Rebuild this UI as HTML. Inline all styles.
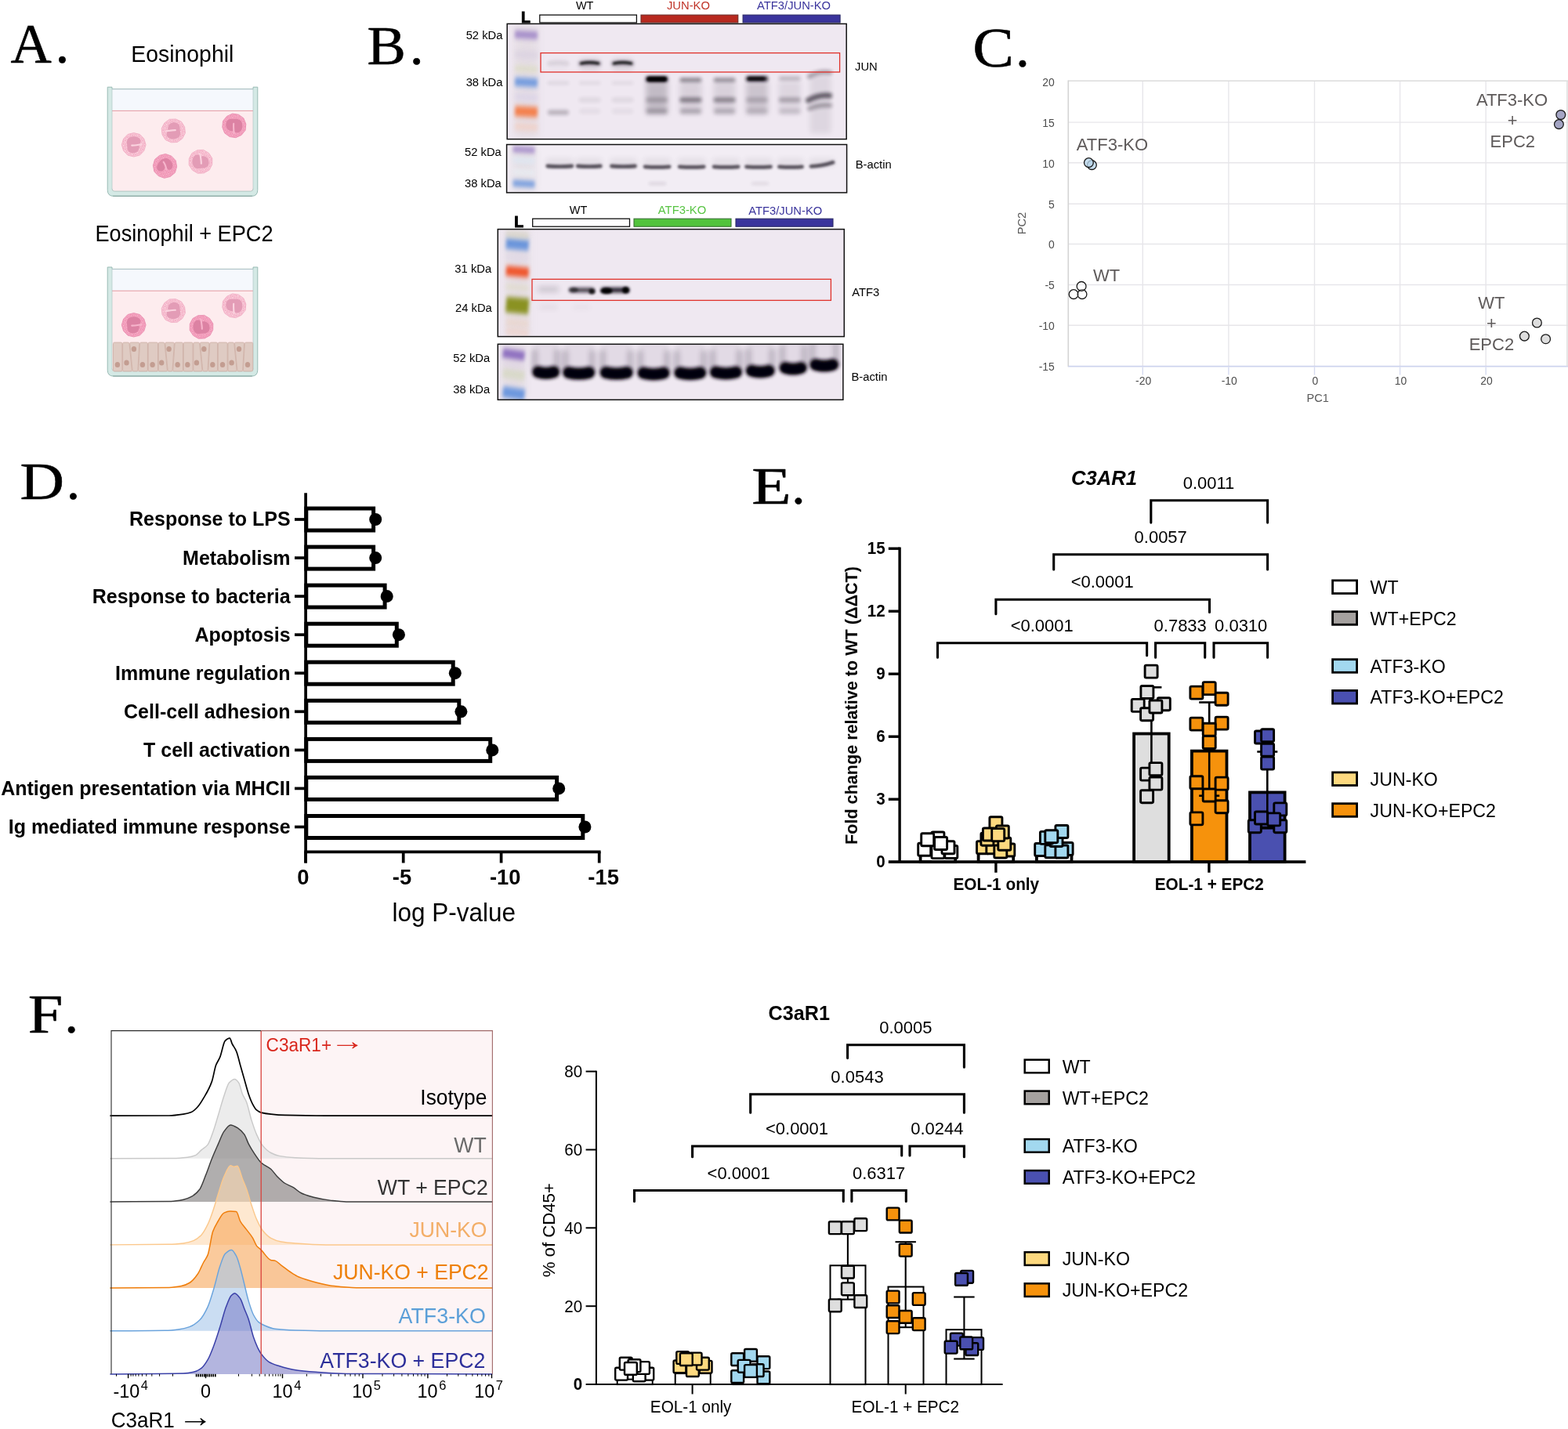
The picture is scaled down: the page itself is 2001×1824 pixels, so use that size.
<!DOCTYPE html>
<html lang="en">
<head>
<meta charset="utf-8">
<title>Figure: ATF3 and JUN regulate C3AR1 in eosinophils</title>
<style>
html,body{margin:0;padding:0;background:#fff;}
body{width:2001px;height:1824px;overflow:hidden;}
svg{display:block;font-family:'Liberation Sans', Arial, Helvetica, sans-serif;}
</style>
</head>
<body>
<svg width="2001" height="1824" viewBox="0 0 2001 1824">
<defs>
<filter id="bl1" filterUnits="userSpaceOnUse" x="620" y="0" width="480" height="530"><feGaussianBlur stdDeviation="1.5"/></filter>
<filter id="bl2" filterUnits="userSpaceOnUse" x="620" y="0" width="480" height="530"><feGaussianBlur stdDeviation="2.3"/></filter>
<filter id="bl2b" filterUnits="userSpaceOnUse" x="620" y="0" width="480" height="530"><feGaussianBlur stdDeviation="2.9"/></filter>
<filter id="blL" filterUnits="userSpaceOnUse" x="620" y="0" width="480" height="530"><feGaussianBlur stdDeviation="2.2 3.3"/></filter>
<filter id="bl3" filterUnits="userSpaceOnUse" x="620" y="0" width="480" height="530"><feGaussianBlur stdDeviation="3.6"/></filter>
<filter id="bl4" filterUnits="userSpaceOnUse" x="620" y="0" width="480" height="530"><feGaussianBlur stdDeviation="5"/></filter>
<pattern id="gran" width="5" height="5" patternUnits="userSpaceOnUse" patternTransform="rotate(27)"><circle cx="0.7" cy="0.9" r="0.55" fill="#e56f96"/><circle cx="3.1" cy="0.4" r="0.5" fill="#e56f96"/><circle cx="1.9" cy="2.4" r="0.55" fill="#e56f96"/><circle cx="4.2" cy="2.9" r="0.5" fill="#e56f96"/><circle cx="0.5" cy="3.9" r="0.5" fill="#e56f96"/><circle cx="2.9" cy="4.3" r="0.55" fill="#e56f96"/><circle cx="1.8" cy="0.9" r="0.45" fill="#fdeaf0"/><circle cx="3.6" cy="1.8" r="0.45" fill="#fdeaf0"/><circle cx="1.2" cy="3.2" r="0.45" fill="#fdeaf0"/><circle cx="4.1" cy="4.1" r="0.45" fill="#fdeaf0"/></pattern>
</defs>
<rect width="2001" height="1824" fill="#fff"/>
<g id="panelA">
<text transform="translate(13.6 80.2) scale(1.058 1.058)" font-family="'Liberation Serif', 'Times New Roman', serif" font-size="68.4" font-weight="normal" stroke="#000" stroke-width="0.55" stroke-linejoin="round"><tspan x="0">A</tspan><tspan x="53.9" textLength="16.9" lengthAdjust="spacingAndGlyphs">.</tspan></text>
<text x="167.3" y="79.3" font-size="29" textLength="131.0" lengthAdjust="spacingAndGlyphs">Eosinophil</text>
<text x="121.5" y="307.5" font-size="29" textLength="227.0" lengthAdjust="spacingAndGlyphs">Eosinophil + EPC2</text>
<path d="M137.2 111.2H143.0V113.60000000000001H323.0V111.2H328.8V242.39999999999998Q328.8 250.39999999999998 320.8 250.39999999999998H145.2Q137.2 250.39999999999998 137.2 242.39999999999998Z" fill="#d4e9e5" stroke="#8fb3ad" stroke-width="0.9"/>
<path d="M144.2 250.2H321.8" fill="none" stroke="#7f9e98" stroke-width="0.9"/>
<rect x="143.0" y="113.8" width="180.0" height="27.6" fill="#f5f8fd"/>
<path d="M143.0 141.4H323.0V240.89999999999998Q323.0 244.09999999999997 319.8 244.09999999999997H146.2Q143.0 244.09999999999997 143.0 240.89999999999998Z" fill="#fdecee"/>
<line x1="143.0" y1="141.4" x2="323.0" y2="141.4" stroke="#e58f98" stroke-width="0.9" />
<line x1="143.0" y1="113.8" x2="323.0" y2="113.8" stroke="#a9bcc0" stroke-width="0.7" />
<line x1="143.0" y1="113.8" x2="143.0" y2="241.4" stroke="#a9c4bf" stroke-width="0.6" />
<line x1="323.0" y1="113.8" x2="323.0" y2="241.4" stroke="#a9c4bf" stroke-width="0.6" />
<path d="M143.0 240.89999999999998Q143.0 244.09999999999997 146.2 244.09999999999997H319.8Q323.0 244.09999999999997 323.0 240.89999999999998" fill="none" stroke="#9db8b3" stroke-width="0.7"/>
<g transform="translate(170.7 184.8)"><polygon points="15.4,0.0 13.1,7.6 7.7,13.3 0.0,15.2 -7.7,13.3 -13.1,7.6 -15.4,0.0 -13.1,-7.6 -7.7,-13.3 -0.0,-15.2 7.7,-13.3 13.1,-7.6" fill="#f9cad9" stroke="#f0aec4" stroke-width="0.9" stroke-linejoin="round"/><circle r="14.4" fill="url(#gran)" opacity="0.8"/><g transform="rotate(0)"><path d="M-8.8 -3C-8.8 -8.5 -4 -10.8 1 -10.5C6 -10.2 9.2 -7 8.7 -3.5C8.5 -1.8 7.6 -0.6 6.2 0C7.2 1 7.2 3 6.7 5C5.7 9 2 10.8 -2 10.5C-6 10.2 -8.5 7 -8.3 3C-8.2 1 -8.8 -1 -8.8 -3Z" fill="#e39cb6"/><path d="M-2.5 0.8C0 1 3 0.4 9.8 -0.6" fill="none" stroke="#fad3df" stroke-width="2.1" stroke-linecap="round"/></g></g>
<g transform="translate(221.3 166.9)"><polygon points="15.1,2.9 11.4,10.0 5.0,14.6 -2.9,14.9 -10.1,11.6 -14.3,4.9 -15.1,-2.9 -11.4,-10.0 -5.0,-14.6 2.9,-14.9 10.1,-11.6 14.3,-4.9" fill="#f9cad9" stroke="#f0aec4" stroke-width="0.9" stroke-linejoin="round"/><circle r="14.4" fill="url(#gran)" opacity="0.8"/><g transform="rotate(180)"><path d="M-8.8 -3C-8.8 -8.5 -4 -10.8 1 -10.5C6 -10.2 9.2 -7 8.7 -3.5C8.5 -1.8 7.6 -0.6 6.2 0C7.2 1 7.2 3 6.7 5C5.7 9 2 10.8 -2 10.5C-6 10.2 -8.5 7 -8.3 3C-8.2 1 -8.8 -1 -8.8 -3Z" fill="#e39cb6"/><path d="M-2.5 0.8C0 1 3 0.4 9.8 -0.6" fill="none" stroke="#fad3df" stroke-width="2.1" stroke-linecap="round"/></g></g>
<g transform="translate(298.8 160.4)"><polygon points="14.3,5.8 9.3,12.0 2.1,15.3 -5.7,14.1 -12.1,9.5 -15.0,2.1 -14.3,-5.8 -9.3,-12.0 -2.1,-15.3 5.7,-14.1 12.1,-9.5 15.0,-2.1" fill="#f4a3c0" stroke="#e98fb0" stroke-width="0.9" stroke-linejoin="round"/><circle r="14.4" fill="url(#gran)" opacity="0.8"/><g transform="rotate(95)"><path d="M-8.8 -3C-8.8 -8.5 -4 -10.8 1 -10.5C6 -10.2 9.2 -7 8.7 -3.5C8.5 -1.8 7.6 -0.6 6.2 0C7.2 1 7.2 3 6.7 5C5.7 9 2 10.8 -2 10.5C-6 10.2 -8.5 7 -8.3 3C-8.2 1 -8.8 -1 -8.8 -3Z" fill="#dc82a3"/><path d="M-2.5 0.8C0 1 3 0.4 9.8 -0.6" fill="none" stroke="#f6b4cb" stroke-width="2.1" stroke-linecap="round"/></g></g>
<g transform="translate(210.5 211.9)"><polygon points="12.9,8.4 6.9,13.5 -0.8,15.4 -8.3,12.7 -13.7,7.0 -15.1,-0.8 -12.9,-8.4 -6.9,-13.5 0.8,-15.4 8.3,-12.7 13.7,-7.0 15.1,0.8" fill="#f4a3c0" stroke="#e98fb0" stroke-width="0.9" stroke-linejoin="round"/><circle r="14.4" fill="url(#gran)" opacity="0.8"/><g transform="rotate(35)"><path d="M-9 0.5C-9 -4 -6.5 -9.5 -1.5 -9.8C3.5 -10.1 8.6 -7.5 9 -3C9.3 0.5 6.8 1.6 4.6 1.2C2.6 0.8 1.5 -0.8 0 -0.6C1.6 1.4 2.2 3.6 1.2 6.2C0 9.3 -3.4 10.3 -6 8.8C-8.4 7.4 -9 4 -9 0.5Z" fill="#dc82a3"/><path d="M-4.5 -3.2C-2 -2.6 0.5 -0.8 4 2.4" fill="none" stroke="#f6b4cb" stroke-width="2.1" stroke-linecap="round"/></g></g>
<g transform="translate(256.0 206.3)"><polygon points="11.1,10.7 4.2,14.6 -3.7,14.9 -10.5,10.9 -14.8,4.2 -14.7,-3.7 -11.1,-10.7 -4.2,-14.6 3.7,-14.9 10.5,-10.9 14.8,-4.2 14.7,3.7" fill="#f9cad9" stroke="#f0aec4" stroke-width="0.9" stroke-linejoin="round"/><circle r="14.4" fill="url(#gran)" opacity="0.8"/><g transform="rotate(-90)"><path d="M-8.8 -3C-8.8 -8.5 -4 -10.8 1 -10.5C6 -10.2 9.2 -7 8.7 -3.5C8.5 -1.8 7.6 -0.6 6.2 0C7.2 1 7.2 3 6.7 5C5.7 9 2 10.8 -2 10.5C-6 10.2 -8.5 7 -8.3 3C-8.2 1 -8.8 -1 -8.8 -3Z" fill="#e39cb6"/><path d="M-2.5 0.8C0 1 3 0.4 9.8 -0.6" fill="none" stroke="#fad3df" stroke-width="2.1" stroke-linecap="round"/></g></g>
<path d="M137.2 341H143.0V343.4H323.0V341H328.8V472.2Q328.8 480.2 320.8 480.2H145.2Q137.2 480.2 137.2 472.2Z" fill="#d4e9e5" stroke="#8fb3ad" stroke-width="0.9"/>
<path d="M144.2 480.0H321.8" fill="none" stroke="#7f9e98" stroke-width="0.9"/>
<rect x="143.0" y="343.6" width="180.0" height="27.6" fill="#f5f8fd"/>
<path d="M143.0 371.2H323.0V470.7Q323.0 473.9 319.8 473.9H146.2Q143.0 473.9 143.0 470.7Z" fill="#fdecee"/>
<line x1="143.0" y1="371.2" x2="323.0" y2="371.2" stroke="#e58f98" stroke-width="0.9" />
<line x1="143.0" y1="343.6" x2="323.0" y2="343.6" stroke="#a9bcc0" stroke-width="0.7" />
<line x1="143.0" y1="343.6" x2="143.0" y2="471.2" stroke="#a9c4bf" stroke-width="0.6" />
<line x1="323.0" y1="343.6" x2="323.0" y2="471.2" stroke="#a9c4bf" stroke-width="0.6" />
<path d="M143.0 470.7Q143.0 473.9 146.2 473.9H319.8Q323.0 473.9 323.0 470.7" fill="none" stroke="#9db8b3" stroke-width="0.7"/>
<rect x="143.6" y="438.5" width="178.8" height="35.7" fill="#ead8d1" rx="2"/>
<path d="M146.1 437.0H154.3Q155.9 437.0 155.9 438.6L155.9 472.3Q155.9 473.9 154.3 473.9H146.1Q144.5 473.9 144.5 472.3L144.5 438.6Q144.5 437.0 146.1 437.0Z" fill="#dfcbc3" stroke="#c5a296" stroke-width="0.55"/>
<path d="M158.2 437.0H163.2Q164.8 437.0 165.0 438.6L168.3 472.3Q168.5 473.9 166.9 473.9H158.2Q156.6 473.9 156.6 472.3L156.6 438.6Q156.6 437.0 158.2 437.0Z" fill="#dfcbc3" stroke="#c5a296" stroke-width="0.55"/>
<path d="M167.1 437.0H176.3Q177.9 437.0 177.8 438.6L175.9 472.3Q175.8 473.9 174.2 473.9H170.8Q169.2 473.9 169.0 472.3L165.7 438.6Q165.5 437.0 167.1 437.0Z" fill="#dfcbc3" stroke="#c5a296" stroke-width="0.55"/>
<path d="M180.2 437.0H186.8Q188.4 437.0 188.4 438.6L188.4 472.3Q188.4 473.9 186.8 473.9H178.1Q176.5 473.9 176.6 472.3L178.5 438.6Q178.6 437.0 180.2 437.0Z" fill="#dfcbc3" stroke="#c5a296" stroke-width="0.55"/>
<path d="M190.7 437.0H199.9Q201.5 437.0 201.5 438.6L201.5 472.3Q201.5 473.9 199.9 473.9H190.7Q189.1 473.9 189.1 472.3L189.1 438.6Q189.1 437.0 190.7 437.0Z" fill="#dfcbc3" stroke="#c5a296" stroke-width="0.55"/>
<path d="M203.8 437.0H208.3Q209.9 437.0 210.1 438.6L213.4 472.3Q213.6 473.9 212.0 473.9H203.8Q202.2 473.9 202.2 472.3L202.2 438.6Q202.2 437.0 203.8 437.0Z" fill="#dfcbc3" stroke="#c5a296" stroke-width="0.55"/>
<path d="M212.2 437.0H220.9Q222.5 437.0 222.4 438.6L220.0 472.3Q219.9 473.9 218.3 473.9H215.9Q214.3 473.9 214.1 472.3L210.8 438.6Q210.6 437.0 212.2 437.0Z" fill="#dfcbc3" stroke="#c5a296" stroke-width="0.55"/>
<path d="M224.8 437.0H231.9Q233.5 437.0 233.5 438.6L233.5 472.3Q233.5 473.9 231.9 473.9H222.2Q220.6 473.9 220.7 472.3L223.1 438.6Q223.2 437.0 224.8 437.0Z" fill="#dfcbc3" stroke="#c5a296" stroke-width="0.55"/>
<path d="M235.8 437.0H244.5Q246.1 437.0 246.1 438.6L246.1 472.3Q246.1 473.9 244.5 473.9H235.8Q234.2 473.9 234.2 472.3L234.2 438.6Q234.2 437.0 235.8 437.0Z" fill="#dfcbc3" stroke="#c5a296" stroke-width="0.55"/>
<path d="M248.4 437.0H252.9Q254.5 437.0 254.7 438.6L258.0 472.3Q258.2 473.9 256.6 473.9H248.4Q246.8 473.9 246.8 472.3L246.8 438.6Q246.8 437.0 248.4 437.0Z" fill="#dfcbc3" stroke="#c5a296" stroke-width="0.55"/>
<path d="M256.8 437.0H265.5Q267.1 437.0 267.0 438.6L265.1 472.3Q265.0 473.9 263.4 473.9H260.5Q258.9 473.9 258.7 472.3L255.4 438.6Q255.2 437.0 256.8 437.0Z" fill="#dfcbc3" stroke="#c5a296" stroke-width="0.55"/>
<path d="M269.4 437.0H276.0Q277.6 437.0 277.6 438.6L277.6 472.3Q277.6 473.9 276.0 473.9H267.3Q265.7 473.9 265.8 472.3L267.7 438.6Q267.8 437.0 269.4 437.0Z" fill="#dfcbc3" stroke="#c5a296" stroke-width="0.55"/>
<path d="M279.9 437.0H288.6Q290.2 437.0 290.2 438.6L290.2 472.3Q290.2 473.9 288.6 473.9H279.9Q278.3 473.9 278.3 472.3L278.3 438.6Q278.3 437.0 279.9 437.0Z" fill="#dfcbc3" stroke="#c5a296" stroke-width="0.55"/>
<path d="M292.5 437.0H297.0Q298.6 437.0 298.8 438.6L302.1 472.3Q302.3 473.9 300.7 473.9H292.5Q290.9 473.9 290.9 472.3L290.9 438.6Q290.9 437.0 292.5 437.0Z" fill="#dfcbc3" stroke="#c5a296" stroke-width="0.55"/>
<path d="M300.9 437.0H310.1Q311.7 437.0 311.6 438.6L309.7 472.3Q309.6 473.9 308.0 473.9H304.6Q303.0 473.9 302.8 472.3L299.5 438.6Q299.3 437.0 300.9 437.0Z" fill="#dfcbc3" stroke="#c5a296" stroke-width="0.55"/>
<path d="M314.0 437.0H321.1Q322.7 437.0 322.7 438.6L322.7 472.3Q322.7 473.9 321.1 473.9H311.9Q310.3 473.9 310.4 472.3L312.3 438.6Q312.4 437.0 314.0 437.0Z" fill="#dfcbc3" stroke="#c5a296" stroke-width="0.55"/>
<ellipse cx="149.9" cy="465.4" rx="3.2" ry="3.5" fill="#c39d91"/>
<ellipse cx="161.5" cy="463.1" rx="3.2" ry="3.5" fill="#c39d91"/>
<ellipse cx="170.9" cy="445.4" rx="3.2" ry="3.5" fill="#c39d91"/>
<ellipse cx="181.9" cy="465.4" rx="3.2" ry="3.5" fill="#c39d91"/>
<ellipse cx="194.6" cy="465.4" rx="3.2" ry="3.5" fill="#c39d91"/>
<ellipse cx="206.2" cy="463.1" rx="3.2" ry="3.5" fill="#c39d91"/>
<ellipse cx="215.6" cy="445.4" rx="3.2" ry="3.5" fill="#c39d91"/>
<ellipse cx="226.6" cy="465.4" rx="3.2" ry="3.5" fill="#c39d91"/>
<ellipse cx="239.3" cy="465.4" rx="3.2" ry="3.5" fill="#c39d91"/>
<ellipse cx="250.9" cy="463.1" rx="3.2" ry="3.5" fill="#c39d91"/>
<ellipse cx="260.3" cy="445.4" rx="3.2" ry="3.5" fill="#c39d91"/>
<ellipse cx="271.3" cy="465.4" rx="3.2" ry="3.5" fill="#c39d91"/>
<ellipse cx="284.0" cy="465.4" rx="3.2" ry="3.5" fill="#c39d91"/>
<ellipse cx="295.6" cy="463.1" rx="3.2" ry="3.5" fill="#c39d91"/>
<ellipse cx="305.0" cy="445.4" rx="3.2" ry="3.5" fill="#c39d91"/>
<ellipse cx="316.0" cy="465.4" rx="3.2" ry="3.5" fill="#c39d91"/>
<g transform="translate(170.7 414.8)"><polygon points="15.4,0.0 13.1,7.6 7.7,13.3 0.0,15.2 -7.7,13.3 -13.1,7.6 -15.4,0.0 -13.1,-7.6 -7.7,-13.3 -0.0,-15.2 7.7,-13.3 13.1,-7.6" fill="#f4a3c0" stroke="#e98fb0" stroke-width="0.9" stroke-linejoin="round"/><circle r="14.4" fill="url(#gran)" opacity="0.8"/><g transform="rotate(0)"><path d="M-8.8 -3C-8.8 -8.5 -4 -10.8 1 -10.5C6 -10.2 9.2 -7 8.7 -3.5C8.5 -1.8 7.6 -0.6 6.2 0C7.2 1 7.2 3 6.7 5C5.7 9 2 10.8 -2 10.5C-6 10.2 -8.5 7 -8.3 3C-8.2 1 -8.8 -1 -8.8 -3Z" fill="#dc82a3"/><path d="M-2.5 0.8C0 1 3 0.4 9.8 -0.6" fill="none" stroke="#f6b4cb" stroke-width="2.1" stroke-linecap="round"/></g></g>
<g transform="translate(221.3 396.6)"><polygon points="15.1,2.9 11.4,10.0 5.0,14.6 -2.9,14.9 -10.1,11.6 -14.3,4.9 -15.1,-2.9 -11.4,-10.0 -5.0,-14.6 2.9,-14.9 10.1,-11.6 14.3,-4.9" fill="#f9cad9" stroke="#f0aec4" stroke-width="0.9" stroke-linejoin="round"/><circle r="14.4" fill="url(#gran)" opacity="0.8"/><g transform="rotate(180)"><path d="M-8.8 -3C-8.8 -8.5 -4 -10.8 1 -10.5C6 -10.2 9.2 -7 8.7 -3.5C8.5 -1.8 7.6 -0.6 6.2 0C7.2 1 7.2 3 6.7 5C5.7 9 2 10.8 -2 10.5C-6 10.2 -8.5 7 -8.3 3C-8.2 1 -8.8 -1 -8.8 -3Z" fill="#e39cb6"/><path d="M-2.5 0.8C0 1 3 0.4 9.8 -0.6" fill="none" stroke="#fad3df" stroke-width="2.1" stroke-linecap="round"/></g></g>
<g transform="translate(298.8 390.3)"><polygon points="14.3,5.8 9.3,12.0 2.1,15.3 -5.7,14.1 -12.1,9.5 -15.0,2.1 -14.3,-5.8 -9.3,-12.0 -2.1,-15.3 5.7,-14.1 12.1,-9.5 15.0,-2.1" fill="#f9cad9" stroke="#f0aec4" stroke-width="0.9" stroke-linejoin="round"/><circle r="14.4" fill="url(#gran)" opacity="0.8"/><g transform="rotate(95)"><path d="M-8.8 -3C-8.8 -8.5 -4 -10.8 1 -10.5C6 -10.2 9.2 -7 8.7 -3.5C8.5 -1.8 7.6 -0.6 6.2 0C7.2 1 7.2 3 6.7 5C5.7 9 2 10.8 -2 10.5C-6 10.2 -8.5 7 -8.3 3C-8.2 1 -8.8 -1 -8.8 -3Z" fill="#e39cb6"/><path d="M-2.5 0.8C0 1 3 0.4 9.8 -0.6" fill="none" stroke="#fad3df" stroke-width="2.1" stroke-linecap="round"/></g></g>
<g transform="translate(257.0 417.3)"><polygon points="11.1,10.7 4.2,14.6 -3.7,14.9 -10.5,10.9 -14.8,4.2 -14.7,-3.7 -11.1,-10.7 -4.2,-14.6 3.7,-14.9 10.5,-10.9 14.8,-4.2 14.7,3.7" fill="#f4a3c0" stroke="#e98fb0" stroke-width="0.9" stroke-linejoin="round"/><circle r="14.4" fill="url(#gran)" opacity="0.8"/><g transform="rotate(-90)"><path d="M-8.8 -3C-8.8 -8.5 -4 -10.8 1 -10.5C6 -10.2 9.2 -7 8.7 -3.5C8.5 -1.8 7.6 -0.6 6.2 0C7.2 1 7.2 3 6.7 5C5.7 9 2 10.8 -2 10.5C-6 10.2 -8.5 7 -8.3 3C-8.2 1 -8.8 -1 -8.8 -3Z" fill="#dc82a3"/><path d="M-2.5 0.8C0 1 3 0.4 9.8 -0.6" fill="none" stroke="#f6b4cb" stroke-width="2.1" stroke-linecap="round"/></g></g>
</g>
<g id="panelB" font-size="14.8">
<text transform="translate(468.6 81.8) scale(1.083 1.023)" font-family="'Liberation Serif', 'Times New Roman', serif" font-size="68.4" font-weight="normal" stroke="#000" stroke-width="0.55" stroke-linejoin="round"><tspan x="0">B</tspan><tspan x="50.1" textLength="16.5" lengthAdjust="spacingAndGlyphs">.</tspan></text>
<text transform="translate(671.0 29.4) scale(1 1.035)" font-size="19.5" text-anchor="middle" font-weight="bold" stroke="#000" stroke-width="0.9">L</text>
<text transform="translate(746.2 12.0) scale(1 1.035)" font-size="14.5" text-anchor="middle">WT</text>
<text transform="translate(878.4 12.0) scale(1 1.035)" font-size="14.8" text-anchor="middle" fill="#c03428">JUN-KO</text>
<text transform="translate(1013.1 12.0) scale(1 1.035)" font-size="14.8" text-anchor="middle" fill="#3a349c" textLength="94.0" lengthAdjust="spacingAndGlyphs">ATF3/JUN-KO</text>
<rect x="688.8" y="19.1" width="123.6" height="9.8" fill="#fff" stroke="#111" stroke-width="1.3"/>
<rect x="818.0" y="19.1" width="123.8" height="9.8" fill="#b8291f" stroke="#6d2a26" stroke-width="1.1"/>
<rect x="948.1" y="19.1" width="124.0" height="9.8" fill="#3a349c" stroke="#2a2866" stroke-width="1.1"/>
<clipPath id="cb1"><rect x="647.2" y="30.4" width="433.0" height="147.2"/></clipPath>
<rect x="647.2" y="30.4" width="433.0" height="147.2" fill="#efe8f1"/>
<g clip-path="url(#cb1)">
<rect x="656.5" y="32.0" width="30.0" height="144.0" fill="#e2dae0" opacity="0.75" filter="url(#bl4)"/>
<path d="M657.0 43.7L686.0 45.3" fill="none" stroke="#9c82c6" stroke-width="9.5" opacity="0.9" filter="url(#blL)"/>
<path d="M657.0 104.2L686.0 105.8" fill="none" stroke="#6d98de" stroke-width="11" opacity="0.95" filter="url(#blL)"/>
<path d="M657.0 141.7L686.0 143.3" fill="none" stroke="#f47a44" stroke-width="13" opacity="0.95" filter="url(#blL)"/>
<path d="M657.0 69.2L686.0 70.8" fill="none" stroke="#d9d0e0" stroke-width="10" opacity="0.7" filter="url(#blL)"/>
<path d="M657.0 87.2L686.0 88.8" fill="none" stroke="#dcdcc4" stroke-width="8" opacity="0.8" filter="url(#blL)"/>
<path d="M657.0 123.2L686.0 124.8" fill="none" stroke="#d8d0e8" stroke-width="8" opacity="0.7" filter="url(#blL)"/>
<path d="M657.0 161.2L686.0 162.8" fill="none" stroke="#f1cfc4" stroke-width="9" opacity="0.8" filter="url(#blL)"/>
<path d="M700.4 81.1Q712.4 79.0 724.4 81.1" fill="none" stroke="#15101c" stroke-width="4.2" stroke-linecap="round" opacity="0.1" filter="url(#bl2)"/>
<rect x="699.9" y="75.0" width="25.0" height="14.0" rx="3.0" fill="#15101c" opacity="0.022000000000000002" filter="url(#bl3)"/>
<path d="M740.6 81.1Q752.6 79.0 764.6 81.1" fill="none" stroke="#15101c" stroke-width="4.2" stroke-linecap="round" opacity="0.5" filter="url(#bl2)"/>
<rect x="740.1" y="75.0" width="25.0" height="14.0" rx="3.0" fill="#15101c" opacity="0.11" filter="url(#bl3)"/>
<path d="M782.5 81.1Q794.5 79.0 806.5 81.1" fill="none" stroke="#15101c" stroke-width="4.2" stroke-linecap="round" opacity="0.5" filter="url(#bl2)"/>
<rect x="782.0" y="75.0" width="25.0" height="14.0" rx="3.0" fill="#15101c" opacity="0.11" filter="url(#bl3)"/>
<path d="M741.6 80.9Q752.6 78.8 763.6 80.9" fill="none" stroke="#000" stroke-width="3" stroke-linecap="round" opacity="0.9" filter="url(#bl1)"/>
<path d="M783.5 80.9Q794.5 78.8 805.5 80.9" fill="none" stroke="#000" stroke-width="3" stroke-linecap="round" opacity="0.9" filter="url(#bl1)"/>
<rect x="698.4" y="104.0" width="28.0" height="4.0" rx="2.0" fill="#15101c" opacity="0.09" filter="url(#bl2)"/>
<rect x="738.6" y="104.0" width="28.0" height="4.0" rx="2.0" fill="#15101c" opacity="0.07" filter="url(#bl2)"/>
<rect x="780.5" y="104.0" width="28.0" height="4.0" rx="2.0" fill="#15101c" opacity="0.07" filter="url(#bl2)"/>
<rect x="824.2" y="97.5" width="28.0" height="7.0" rx="3.0" fill="#15101c" opacity="1" filter="url(#bl2)"/>
<rect x="867.4" y="99.0" width="28.0" height="6.0" rx="3.0" fill="#15101c" opacity="0.4" filter="url(#bl2)"/>
<rect x="910.6" y="99.0" width="28.0" height="6.0" rx="3.0" fill="#15101c" opacity="0.36" filter="url(#bl2)"/>
<rect x="952.0" y="97.2" width="28.0" height="6.5" rx="3.0" fill="#15101c" opacity="0.95" filter="url(#bl2)"/>
<rect x="993.8" y="97.0" width="28.0" height="6.0" rx="3.0" fill="#15101c" opacity="0.2" filter="url(#bl2)"/>
<rect x="825.7" y="98.3" width="25.0" height="5.4" rx="2.7" fill="#000" opacity="1" filter="url(#bl1)"/>
<rect x="954.0" y="98.5" width="22.0" height="4.0" rx="2.0" fill="#000" opacity="0.8" filter="url(#bl1)"/>
<rect x="824.2" y="104" width="28" height="42" fill="#15101c" opacity="0.2" filter="url(#bl3)"/>
<rect x="867.4" y="104" width="28" height="42" fill="#15101c" opacity="0.1" filter="url(#bl3)"/>
<rect x="910.6" y="104" width="28" height="42" fill="#15101c" opacity="0.1" filter="url(#bl3)"/>
<rect x="952.0" y="104" width="28" height="42" fill="#15101c" opacity="0.16" filter="url(#bl3)"/>
<rect x="993.8" y="104" width="28" height="42" fill="#15101c" opacity="0.08" filter="url(#bl3)"/>
<rect x="738.6" y="124.3" width="28.0" height="6.5" rx="3.0" fill="#15101c" opacity="0.07" filter="url(#bl2)"/>
<rect x="780.5" y="124.3" width="28.0" height="6.5" rx="3.0" fill="#15101c" opacity="0.07" filter="url(#bl2)"/>
<rect x="824.2" y="124.3" width="28.0" height="6.5" rx="3.0" fill="#15101c" opacity="0.2" filter="url(#bl2)"/>
<rect x="867.4" y="124.3" width="28.0" height="6.5" rx="3.0" fill="#15101c" opacity="0.42" filter="url(#bl2)"/>
<rect x="910.6" y="124.3" width="28.0" height="6.5" rx="3.0" fill="#15101c" opacity="0.38" filter="url(#bl2)"/>
<rect x="952.0" y="124.3" width="28.0" height="6.5" rx="3.0" fill="#15101c" opacity="0.18" filter="url(#bl2)"/>
<rect x="993.8" y="124.3" width="28.0" height="6.5" rx="3.0" fill="#15101c" opacity="0.26" filter="url(#bl2)"/>
<rect x="698.9" y="140.2" width="27.0" height="6.5" rx="3.0" fill="#15101c" opacity="0.24" filter="url(#bl2)"/>
<rect x="739.1" y="138.8" width="27.0" height="6.5" rx="3.0" fill="#15101c" opacity="0.05" filter="url(#bl2)"/>
<rect x="781.0" y="138.8" width="27.0" height="6.5" rx="3.0" fill="#15101c" opacity="0.05" filter="url(#bl2)"/>
<rect x="824.7" y="138.8" width="27.0" height="6.5" rx="3.0" fill="#15101c" opacity="0.22" filter="url(#bl2)"/>
<rect x="867.9" y="138.8" width="27.0" height="6.5" rx="3.0" fill="#15101c" opacity="0.22" filter="url(#bl2)"/>
<rect x="911.1" y="138.8" width="27.0" height="6.5" rx="3.0" fill="#15101c" opacity="0.2" filter="url(#bl2)"/>
<rect x="952.5" y="138.8" width="27.0" height="6.5" rx="3.0" fill="#15101c" opacity="0.13" filter="url(#bl2)"/>
<rect x="994.3" y="138.8" width="27.0" height="6.5" rx="3.0" fill="#15101c" opacity="0.13" filter="url(#bl2)"/>
<path d="M1033.0 97.5Q1046.0 90.5 1059.0 92.5" fill="none" stroke="#15101c" stroke-width="6" stroke-linecap="round" opacity="0.3" filter="url(#bl2)"/>
<path d="M1031.5 128.0Q1045.0 120.5 1058.5 122.0" fill="none" stroke="#15101c" stroke-width="7" stroke-linecap="round" opacity="0.6" filter="url(#bl2)"/>
<path d="M1033.0 138.5Q1046.0 133.5 1059.0 134.5" fill="none" stroke="#15101c" stroke-width="6" stroke-linecap="round" opacity="0.3" filter="url(#bl2)"/>
<rect x="1034" y="96" width="26" height="74" fill="#15101c" opacity="0.08" filter="url(#bl3)"/>
</g>
<rect x="647.2" y="30.4" width="433.0" height="147.2" fill="none" stroke="#111" stroke-width="1.5"/>
<rect x="690.0" y="67.6" width="381.6" height="24.4" fill="none" stroke="#e0312a" stroke-width="1.3"/>
<clipPath id="cb2"><rect x="646.6" y="184.5" width="434.0" height="61.4"/></clipPath>
<rect x="646.6" y="184.5" width="434.0" height="61.4" fill="#f2edf4"/>
<g clip-path="url(#cb2)">
<rect x="654.0" y="186.0" width="29.0" height="59.0" fill="#e2dae0" opacity="0.75" filter="url(#bl4)"/>
<path d="M654.5 190.2L682.5 191.8" fill="none" stroke="#9c82c6" stroke-width="7" opacity="0.95" filter="url(#blL)"/>
<path d="M654.5 233.7L682.5 235.3" fill="none" stroke="#6d98de" stroke-width="7.5" opacity="1" filter="url(#blL)"/>
<path d="M654.5 204.2L682.5 205.8" fill="none" stroke="#dde8f4" stroke-width="8" opacity="0.8" filter="url(#blL)"/>
<path d="M654.5 219.2L682.5 220.8" fill="none" stroke="#e8eef4" stroke-width="8" opacity="0.8" filter="url(#blL)"/>
<path d="M698.8 212.0Q714.3 213.3 729.8 212.0" fill="none" stroke="#3a343f" stroke-width="4.8" stroke-linecap="round" opacity="0.85" filter="url(#bl1)"/>
<rect x="696.8" y="202.0" width="35.0" height="10.0" rx="3.0" fill="#2a2430" opacity="0.07" filter="url(#bl3)"/>
<path d="M737.3 212.0Q751.8 213.3 766.3 212.0" fill="none" stroke="#3a343f" stroke-width="4.8" stroke-linecap="round" opacity="0.85" filter="url(#bl1)"/>
<rect x="735.3" y="202.0" width="33.0" height="10.0" rx="3.0" fill="#2a2430" opacity="0.07" filter="url(#bl3)"/>
<path d="M780.5 212.0Q795.5 213.3 810.5 212.0" fill="none" stroke="#3a343f" stroke-width="4.8" stroke-linecap="round" opacity="0.85" filter="url(#bl1)"/>
<rect x="778.5" y="202.0" width="34.0" height="10.0" rx="3.0" fill="#2a2430" opacity="0.07" filter="url(#bl3)"/>
<path d="M823.1 212.8Q838.6 214.1 854.1 212.8" fill="none" stroke="#3a343f" stroke-width="4.8" stroke-linecap="round" opacity="0.85" filter="url(#bl1)"/>
<rect x="821.1" y="202.0" width="35.0" height="10.0" rx="3.0" fill="#2a2430" opacity="0.07" filter="url(#bl3)"/>
<path d="M867.2 212.8Q882.7 214.1 898.2 212.8" fill="none" stroke="#3a343f" stroke-width="4.8" stroke-linecap="round" opacity="0.85" filter="url(#bl1)"/>
<rect x="865.2" y="202.0" width="35.0" height="10.0" rx="3.0" fill="#2a2430" opacity="0.07" filter="url(#bl3)"/>
<path d="M911.1 212.8Q926.6 214.1 942.1 212.8" fill="none" stroke="#3a343f" stroke-width="4.8" stroke-linecap="round" opacity="0.85" filter="url(#bl1)"/>
<rect x="909.1" y="202.0" width="35.0" height="10.0" rx="3.0" fill="#2a2430" opacity="0.07" filter="url(#bl3)"/>
<path d="M952.5 212.8Q968.0 214.1 983.5 212.8" fill="none" stroke="#3a343f" stroke-width="4.8" stroke-linecap="round" opacity="0.85" filter="url(#bl1)"/>
<rect x="950.5" y="202.0" width="35.0" height="10.0" rx="3.0" fill="#2a2430" opacity="0.07" filter="url(#bl3)"/>
<path d="M994.5 212.8Q1009.0 214.1 1023.5 212.8" fill="none" stroke="#3a343f" stroke-width="4.8" stroke-linecap="round" opacity="0.85" filter="url(#bl1)"/>
<rect x="992.5" y="202.0" width="33.0" height="10.0" rx="3.0" fill="#2a2430" opacity="0.07" filter="url(#bl3)"/>
<path d="M1035.0 212.3Q1049.0 212.0 1063.0 207.2" fill="none" stroke="#3a343f" stroke-width="4.8" stroke-linecap="round" opacity="0.85" filter="url(#bl1)"/>
<rect x="1033.0" y="202.0" width="32.0" height="10.0" rx="3.0" fill="#2a2430" opacity="0.07" filter="url(#bl3)"/>
<rect x="828.0" y="233.1" width="22.0" height="2.5" rx="1.2" fill="#15101c" opacity="0.16" filter="url(#bl2)"/>
<rect x="959.0" y="233.1" width="22.0" height="2.5" rx="1.2" fill="#15101c" opacity="0.13" filter="url(#bl2)"/>
</g>
<rect x="646.6" y="184.5" width="434.0" height="61.4" fill="none" stroke="#111" stroke-width="1.5"/>
<text transform="translate(641.5 49.6) scale(1 1.035)" font-size="14.8" text-anchor="end">52 kDa</text>
<text transform="translate(641.5 109.5) scale(1 1.035)" font-size="14.8" text-anchor="end">38 kDa</text>
<text transform="translate(639.8 198.8) scale(1 1.035)" font-size="14.8" text-anchor="end">52 kDa</text>
<text transform="translate(639.8 239.1) scale(1 1.035)" font-size="14.8" text-anchor="end">38 kDa</text>
<text transform="translate(1091.0 90.4) scale(1 1.035)" font-size="14.8">JUN</text>
<text transform="translate(1091.7 214.5) scale(1 1.035)" font-size="14.8">B-actin</text>
<text transform="translate(662.3 289.8) scale(1 1.035)" font-size="19.5" text-anchor="middle" font-weight="bold" stroke="#000" stroke-width="0.9">L</text>
<text transform="translate(738.1 273.3) scale(1 1.035)" font-size="14.5" text-anchor="middle">WT</text>
<text transform="translate(870.5 273.3) scale(1 1.035)" font-size="14.8" text-anchor="middle" fill="#58c443">ATF3-KO</text>
<text transform="translate(1002.2 274.4) scale(1 1.035)" font-size="14.8" text-anchor="middle" fill="#3a349c" textLength="94.0" lengthAdjust="spacingAndGlyphs">ATF3/JUN-KO</text>
<rect x="679.7" y="279.2" width="123.8" height="10.0" fill="#fff" stroke="#111" stroke-width="1.3"/>
<rect x="809.0" y="279.2" width="124.0" height="10.0" fill="#52c43c" stroke="#3a7233" stroke-width="1.1"/>
<rect x="939.0" y="279.2" width="124.0" height="10.0" fill="#3a349c" stroke="#2a2866" stroke-width="1.1"/>
<clipPath id="cb3"><rect x="635.3" y="292.6" width="442.0" height="137.0"/></clipPath>
<rect x="635.3" y="292.6" width="442.0" height="137.0" fill="#efe8f1"/>
<g clip-path="url(#cb3)">
<rect x="645.2" y="294.0" width="30.0" height="134.0" fill="#e2dae0" opacity="0.75" filter="url(#bl4)"/>
<path d="M645.7 310.6L674.7 313.0" fill="none" stroke="#6a95dc" stroke-width="14" opacity="1" filter="url(#blL)"/>
<path d="M645.7 345.6L674.7 348.0" fill="none" stroke="#f0552c" stroke-width="12.5" opacity="1" filter="url(#blL)"/>
<path d="M645.7 388.6L674.7 391.0" fill="none" stroke="#8a9220" stroke-width="20" opacity="1" filter="url(#blL)"/>
<path d="M645.7 298.8L674.7 301.2" fill="none" stroke="#d5d3c0" stroke-width="8" opacity="0.7" filter="url(#blL)"/>
<path d="M645.7 327.8L674.7 330.2" fill="none" stroke="#ddd6e6" stroke-width="8" opacity="0.6" filter="url(#blL)"/>
<path d="M645.7 365.8L674.7 368.2" fill="none" stroke="#e0dccb" stroke-width="8" opacity="0.8" filter="url(#blL)"/>
<path d="M645.7 410.8L674.7 413.2" fill="none" stroke="#ead6cc" stroke-width="10" opacity="0.8" filter="url(#blL)"/>
<path d="M645.7 422.8L674.7 425.2" fill="none" stroke="#f0d0c4" stroke-width="8" opacity="0.7" filter="url(#blL)"/>
<rect x="686.3" y="365.8" width="27.0" height="7.0" rx="3.0" fill="#15101c" opacity="0.17" filter="url(#bl3)"/>
<rect x="726.3" y="367.3" width="32.0" height="6.0" rx="3.0" fill="#15101c" opacity="0.75" filter="url(#bl2)"/>
<ellipse cx="755.5" cy="372" rx="4" ry="3.6" fill="#000" opacity="0.85" filter="url(#bl1)"/>
<ellipse cx="732" cy="370" rx="6" ry="3" fill="#000" opacity="0.5" filter="url(#bl1)"/>
<rect x="767.0" y="367.1" width="36.0" height="6.4" rx="3.0" fill="#15101c" opacity="0.9" filter="url(#bl2)"/>
<ellipse cx="774" cy="371.3" rx="7.5" ry="3.8" fill="#000" opacity="1" filter="url(#bl1)"/>
<ellipse cx="798.5" cy="370.3" rx="4.5" ry="4" fill="#000" opacity="1" filter="url(#bl1)"/>
<rect x="687.8" y="389.5" width="24.0" height="5.0" rx="2.5" fill="#15101c" opacity="0.07" filter="url(#bl3)"/>
<rect x="730.0" y="389.5" width="24.0" height="5.0" rx="2.5" fill="#15101c" opacity="0.04" filter="url(#bl3)"/>
</g>
<rect x="635.3" y="292.6" width="442.0" height="137.0" fill="none" stroke="#111" stroke-width="1.5"/>
<rect x="679.0" y="356.4" width="381.4" height="27.0" fill="none" stroke="#e0312a" stroke-width="1.3"/>
<clipPath id="cb4"><rect x="635.3" y="439.3" width="440.6" height="71.0"/></clipPath>
<rect x="635.3" y="439.3" width="440.6" height="71.0" fill="#efe8f1"/>
<g clip-path="url(#cb4)">
<rect x="641.0" y="440.0" width="29.0" height="70.0" fill="#e2dae0" opacity="0.75" filter="url(#bl4)"/>
<path d="M641.5 450.5L669.5 454.5" fill="none" stroke="#8e70c0" stroke-width="12" opacity="1" filter="url(#blL)"/>
<path d="M641.5 500.0L669.5 504.0" fill="none" stroke="#6d98de" stroke-width="14" opacity="1" filter="url(#blL)"/>
<path d="M641.5 476.0L669.5 480.0" fill="none" stroke="#d6d8c4" stroke-width="12" opacity="0.85" filter="url(#blL)"/>
<path d="M641.5 464.0L669.5 468.0" fill="none" stroke="#ddd3e4" stroke-width="6" opacity="0.6" filter="url(#blL)"/>
<rect x="681.2" y="436.3" width="31.0" height="36" fill="#3a2c48" opacity="0.07" filter="url(#bl3)"/>
<path d="M682.2 446.3V472.3M711.2 446.3V472.3" stroke="#2a1c38" stroke-width="6" opacity="0.28" fill="none" filter="url(#bl3)"/>
<path d="M686.7 474.7Q696.7 478.0 706.7 474.7" fill="none" stroke="#120c1a" stroke-width="15.5" stroke-linecap="round" opacity="1" filter="url(#bl2)"/>
<path d="M686.7 475.2Q696.7 478.5 706.7 475.2" fill="none" stroke="#050308" stroke-width="10" stroke-linecap="round" opacity="1" filter="url(#bl1)"/>
<rect x="720.2" y="437.0" width="37.0" height="36" fill="#3a2c48" opacity="0.07" filter="url(#bl3)"/>
<path d="M721.2 447.0V473.0M756.2 447.0V473.0" stroke="#2a1c38" stroke-width="6" opacity="0.28" fill="none" filter="url(#bl3)"/>
<path d="M725.7 475.4Q738.7 478.7 751.7 475.4" fill="none" stroke="#120c1a" stroke-width="15.5" stroke-linecap="round" opacity="1" filter="url(#bl2)"/>
<path d="M725.7 475.9Q738.7 479.2 751.7 475.9" fill="none" stroke="#050308" stroke-width="10" stroke-linecap="round" opacity="1" filter="url(#bl1)"/>
<rect x="767.7" y="437.0" width="38.0" height="36" fill="#3a2c48" opacity="0.07" filter="url(#bl3)"/>
<path d="M768.7 447.0V473.0M804.7 447.0V473.0" stroke="#2a1c38" stroke-width="6" opacity="0.28" fill="none" filter="url(#bl3)"/>
<path d="M773.2 475.4Q786.7 478.7 800.2 475.4" fill="none" stroke="#120c1a" stroke-width="15.5" stroke-linecap="round" opacity="1" filter="url(#bl2)"/>
<path d="M773.2 475.9Q786.7 479.2 800.2 475.9" fill="none" stroke="#050308" stroke-width="10" stroke-linecap="round" opacity="1" filter="url(#bl1)"/>
<rect x="815.6" y="437.6" width="37.0" height="36" fill="#3a2c48" opacity="0.07" filter="url(#bl3)"/>
<path d="M816.6 447.6V473.6M851.6 447.6V473.6" stroke="#2a1c38" stroke-width="6" opacity="0.28" fill="none" filter="url(#bl3)"/>
<path d="M821.1 476.0Q834.1 479.3 847.1 476.0" fill="none" stroke="#120c1a" stroke-width="15.5" stroke-linecap="round" opacity="1" filter="url(#bl2)"/>
<path d="M821.1 476.5Q834.1 479.8 847.1 476.5" fill="none" stroke="#050308" stroke-width="10" stroke-linecap="round" opacity="1" filter="url(#bl1)"/>
<rect x="862.3" y="437.4" width="37.0" height="36" fill="#3a2c48" opacity="0.07" filter="url(#bl3)"/>
<path d="M863.3 447.4V473.4M898.3 447.4V473.4" stroke="#2a1c38" stroke-width="6" opacity="0.28" fill="none" filter="url(#bl3)"/>
<path d="M867.8 475.8Q880.8 479.1 893.8 475.8" fill="none" stroke="#120c1a" stroke-width="15.5" stroke-linecap="round" opacity="1" filter="url(#bl2)"/>
<path d="M867.8 476.3Q880.8 479.6 893.8 476.3" fill="none" stroke="#050308" stroke-width="10" stroke-linecap="round" opacity="1" filter="url(#bl1)"/>
<rect x="907.9" y="436.6" width="37.0" height="36" fill="#3a2c48" opacity="0.07" filter="url(#bl3)"/>
<path d="M908.9 446.6V472.6M943.9 446.6V472.6" stroke="#2a1c38" stroke-width="6" opacity="0.28" fill="none" filter="url(#bl3)"/>
<path d="M913.4 475.0Q926.4 478.3 939.4 475.0" fill="none" stroke="#120c1a" stroke-width="15.5" stroke-linecap="round" opacity="1" filter="url(#bl2)"/>
<path d="M913.4 475.5Q926.4 478.8 939.4 475.5" fill="none" stroke="#050308" stroke-width="10" stroke-linecap="round" opacity="1" filter="url(#bl1)"/>
<rect x="953.7" y="434.8" width="33.0" height="36" fill="#3a2c48" opacity="0.07" filter="url(#bl3)"/>
<path d="M954.7 444.8V470.8M985.7 444.8V470.8" stroke="#2a1c38" stroke-width="6" opacity="0.28" fill="none" filter="url(#bl3)"/>
<path d="M959.2 473.2Q970.2 476.5 981.2 473.2" fill="none" stroke="#120c1a" stroke-width="15.5" stroke-linecap="round" opacity="1" filter="url(#bl2)"/>
<path d="M959.2 473.7Q970.2 477.0 981.2 473.7" fill="none" stroke="#050308" stroke-width="10" stroke-linecap="round" opacity="1" filter="url(#bl1)"/>
<rect x="996.7" y="431.0" width="31.0" height="36" fill="#3a2c48" opacity="0.07" filter="url(#bl3)"/>
<path d="M997.7 441.0V467.0M1026.7 441.0V467.0" stroke="#2a1c38" stroke-width="6" opacity="0.28" fill="none" filter="url(#bl3)"/>
<path d="M1002.2 469.4Q1012.2 472.7 1022.2 469.4" fill="none" stroke="#120c1a" stroke-width="15.5" stroke-linecap="round" opacity="1" filter="url(#bl2)"/>
<path d="M1002.2 469.9Q1012.2 473.2 1022.2 469.9" fill="none" stroke="#050308" stroke-width="10" stroke-linecap="round" opacity="1" filter="url(#bl1)"/>
<rect x="1035.3" y="427.0" width="33.0" height="36" fill="#3a2c48" opacity="0.07" filter="url(#bl3)"/>
<path d="M1036.3 437.0V463.0M1067.3 437.0V463.0" stroke="#2a1c38" stroke-width="6" opacity="0.28" fill="none" filter="url(#bl3)"/>
<path d="M1040.8 465.4Q1051.8 468.7 1062.8 465.4" fill="none" stroke="#120c1a" stroke-width="15.5" stroke-linecap="round" opacity="1" filter="url(#bl2)"/>
<path d="M1040.8 465.9Q1051.8 469.2 1062.8 465.9" fill="none" stroke="#050308" stroke-width="10" stroke-linecap="round" opacity="1" filter="url(#bl1)"/>
</g>
<rect x="635.3" y="439.3" width="440.6" height="71.0" fill="none" stroke="#111" stroke-width="1.5"/>
<text transform="translate(627.2 347.6) scale(1 1.035)" font-size="14.8" text-anchor="end">31 kDa</text>
<text transform="translate(627.8 398.1) scale(1 1.035)" font-size="14.8" text-anchor="end">24 kDa</text>
<text transform="translate(625.2 461.9) scale(1 1.035)" font-size="14.8" text-anchor="end">52 kDa</text>
<text transform="translate(625.2 501.6) scale(1 1.035)" font-size="14.8" text-anchor="end">38 kDa</text>
<text transform="translate(1087.2 378.3) scale(1 1.035)" font-size="14.8">ATF3</text>
<text transform="translate(1086.4 485.5) scale(1 1.035)" font-size="14.8">B-actin</text>
</g>
<g id="panelC">
<text transform="translate(1241.2 85.4) scale(1.154 1.058)" font-family="'Liberation Serif', 'Times New Roman', serif" font-size="68.4" font-weight="normal" stroke="#000" stroke-width="0.55" stroke-linejoin="round"><tspan x="0">C</tspan><tspan x="47.4" textLength="15.5" lengthAdjust="spacingAndGlyphs">.</tspan></text>
<rect x="1363.3" y="103.3" width="650.0" height="364.3" fill="#fff"/>
<line x1="1458.3" y1="103.3" x2="1458.3" y2="467.6" stroke="#e7e6ea" stroke-width="1.4" />
<line x1="1567.9" y1="103.3" x2="1567.9" y2="467.6" stroke="#e7e6ea" stroke-width="1.4" />
<line x1="1677.5" y1="103.3" x2="1677.5" y2="467.6" stroke="#e7e6ea" stroke-width="1.4" />
<line x1="1786.6" y1="103.3" x2="1786.6" y2="467.6" stroke="#e7e6ea" stroke-width="1.4" />
<line x1="1896.2" y1="103.3" x2="1896.2" y2="467.6" stroke="#e7e6ea" stroke-width="1.4" />
<line x1="1363.3" y1="156.1" x2="2001.0" y2="156.1" stroke="#e7e6ea" stroke-width="1.4" />
<line x1="1363.3" y1="207.8" x2="2001.0" y2="207.8" stroke="#e7e6ea" stroke-width="1.4" />
<line x1="1363.3" y1="260.2" x2="2001.0" y2="260.2" stroke="#e7e6ea" stroke-width="1.4" />
<line x1="1363.3" y1="311.5" x2="2001.0" y2="311.5" stroke="#e7e6ea" stroke-width="1.4" />
<line x1="1363.3" y1="363.5" x2="2001.0" y2="363.5" stroke="#e7e6ea" stroke-width="1.4" />
<line x1="1363.3" y1="415.2" x2="2001.0" y2="415.2" stroke="#e7e6ea" stroke-width="1.4" />
<line x1="1363.3" y1="103.3" x2="2001.0" y2="103.3" stroke="#dcdcdc" stroke-width="1.6" />
<line x1="1363.3" y1="102.5" x2="1363.3" y2="468.3" stroke="#d4d4d4" stroke-width="1.6" />
<line x1="1363.3" y1="467.6" x2="2001.0" y2="467.6" stroke="#cdd3ee" stroke-width="1.6" />
<line x1="1999.9" y1="103.3" x2="1999.9" y2="467.6" stroke="#dedede" stroke-width="1.5" />
<text x="1345.8" y="109.6" font-size="13.9" text-anchor="end" fill="#4c4c4c">20</text>
<text x="1345.8" y="162.2" font-size="13.9" text-anchor="end" fill="#4c4c4c">15</text>
<text x="1345.8" y="213.8" font-size="13.9" text-anchor="end" fill="#4c4c4c">10</text>
<text x="1345.8" y="266.0" font-size="13.9" text-anchor="end" fill="#4c4c4c">5</text>
<text x="1345.8" y="317.1" font-size="13.9" text-anchor="end" fill="#4c4c4c">0</text>
<text x="1345.8" y="368.9" font-size="13.9" text-anchor="end" fill="#4c4c4c">-5</text>
<text x="1345.8" y="420.5" font-size="13.9" text-anchor="end" fill="#4c4c4c">-10</text>
<text x="1345.8" y="472.7" font-size="13.9" text-anchor="end" fill="#4c4c4c">-15</text>
<text x="1459.1" y="490.5" font-size="13.9" text-anchor="middle" fill="#4c4c4c">-20</text>
<line x1="1458.3" y1="468.4" x2="1458.3" y2="478.6" stroke="#d6dbf0" stroke-width="1.4" />
<text x="1568.7" y="490.5" font-size="13.9" text-anchor="middle" fill="#4c4c4c">-10</text>
<line x1="1567.9" y1="468.4" x2="1567.9" y2="478.6" stroke="#d6dbf0" stroke-width="1.4" />
<text x="1678.3" y="490.5" font-size="13.9" text-anchor="middle" fill="#4c4c4c">0</text>
<line x1="1677.5" y1="468.4" x2="1677.5" y2="478.6" stroke="#d6dbf0" stroke-width="1.4" />
<text x="1787.4" y="490.5" font-size="13.9" text-anchor="middle" fill="#4c4c4c">10</text>
<line x1="1786.6" y1="468.4" x2="1786.6" y2="478.6" stroke="#d6dbf0" stroke-width="1.4" />
<text x="1897.0" y="490.5" font-size="13.9" text-anchor="middle" fill="#4c4c4c">20</text>
<line x1="1896.2" y1="468.4" x2="1896.2" y2="478.6" stroke="#d6dbf0" stroke-width="1.4" />
<text transform="translate(1681.6 513.4) scale(1 1.035)" font-size="14.6" text-anchor="middle" fill="#5a5a5a">PC1</text>
<text transform="translate(1309.0 285.0) rotate(-90) scale(1 1.035)" font-size="14.6" text-anchor="middle" fill="#5a5a5a">PC2</text>
<circle cx="1393.4" cy="210.6" r="5.9" fill="#b9d6ea" stroke="#1a1a1a" stroke-width="1.3" fill-opacity="0.78"/>
<circle cx="1389.4" cy="207.6" r="5.9" fill="#b9d6ea" stroke="#1a1a1a" stroke-width="1.3" fill-opacity="0.78"/>
<circle cx="1370.1" cy="375.6" r="5.9" fill="#fff" stroke="#1a1a1a" stroke-width="1.3" fill-opacity="0.35"/>
<circle cx="1381.0" cy="375.6" r="5.9" fill="#fff" stroke="#1a1a1a" stroke-width="1.3" fill-opacity="0.35"/>
<circle cx="1380.1" cy="365.4" r="5.9" fill="#fff" stroke="#1a1a1a" stroke-width="1.3" fill-opacity="0.35"/>
<circle cx="1989.4" cy="158.6" r="5.9" fill="#8a8cb4" stroke="#1a1a1a" stroke-width="1.3" fill-opacity="0.78"/>
<circle cx="1991.8" cy="146.5" r="5.9" fill="#8a8cb4" stroke="#1a1a1a" stroke-width="1.3" fill-opacity="0.78"/>
<circle cx="1961.4" cy="412.0" r="5.9" fill="#d5d5d5" stroke="#1a1a1a" stroke-width="1.3" fill-opacity="0.78"/>
<circle cx="1945.4" cy="429.1" r="5.9" fill="#d5d5d5" stroke="#1a1a1a" stroke-width="1.3" fill-opacity="0.78"/>
<circle cx="1972.6" cy="432.7" r="5.9" fill="#d5d5d5" stroke="#1a1a1a" stroke-width="1.3" fill-opacity="0.78"/>
<text transform="translate(1373.8 191.5) scale(1 1.035)" font-size="22" fill="#5e5a5a">ATF3-KO</text>
<text transform="translate(1395.0 358.8) scale(1 1.035)" font-size="22" fill="#5e5a5a">WT</text>
<text transform="translate(1929.5 135.4) scale(1 1.035)" font-size="22" text-anchor="middle" fill="#5e5a5a">ATF3-KO</text>
<text transform="translate(1930.0 161.3) scale(1 1.035)" font-size="21.8" text-anchor="middle" fill="#5e5a5a">+</text>
<text transform="translate(1930.3 187.8) scale(1 1.035)" font-size="22" text-anchor="middle" fill="#5e5a5a">EPC2</text>
<text transform="translate(1903.4 394.0) scale(1 1.035)" font-size="22" text-anchor="middle" fill="#5e5a5a">WT</text>
<text transform="translate(1903.4 420.0) scale(1 1.035)" font-size="21.8" text-anchor="middle" fill="#5e5a5a">+</text>
<text transform="translate(1903.4 446.5) scale(1 1.035)" font-size="22" text-anchor="middle" fill="#5e5a5a">EPC2</text>
</g>
<g id="panelD" font-weight="bold">
<text transform="translate(25.4 637.2) scale(1.144 1.0)" font-family="'Liberation Serif', 'Times New Roman', serif" font-size="68.4" font-weight="normal" stroke="#000" stroke-width="0.55" stroke-linejoin="round"><tspan x="0">D</tspan><tspan x="51.7" textLength="15.6" lengthAdjust="spacingAndGlyphs">.</tspan></text>
<rect x="390.8" y="649.0" width="85.8" height="28.0" fill="#fff" stroke="#000" stroke-width="5"/>
<circle cx="479.2" cy="663.0" r="8" fill="#000"/>
<line x1="376.0" y1="663.0" x2="390.1" y2="663.0" stroke="#000" stroke-width="3.7" />
<text transform="translate(370.6 671.4) scale(1 1.035)" font-size="25" text-anchor="end">Response to LPS</text>
<rect x="390.8" y="698.1" width="85.8" height="28.0" fill="#fff" stroke="#000" stroke-width="5"/>
<circle cx="479.2" cy="712.1" r="8" fill="#000"/>
<line x1="376.0" y1="712.1" x2="390.1" y2="712.1" stroke="#000" stroke-width="3.7" />
<text transform="translate(370.6 720.5) scale(1 1.035)" font-size="25" text-anchor="end">Metabolism</text>
<rect x="390.8" y="747.1" width="100.3" height="28.0" fill="#fff" stroke="#000" stroke-width="5"/>
<circle cx="493.7" cy="761.1" r="8" fill="#000"/>
<line x1="376.0" y1="761.1" x2="390.1" y2="761.1" stroke="#000" stroke-width="3.7" />
<text transform="translate(370.6 769.5) scale(1 1.035)" font-size="25" text-anchor="end">Response to bacteria</text>
<rect x="390.8" y="796.2" width="115.5" height="28.0" fill="#fff" stroke="#000" stroke-width="5"/>
<circle cx="508.9" cy="810.2" r="8" fill="#000"/>
<line x1="376.0" y1="810.2" x2="390.1" y2="810.2" stroke="#000" stroke-width="3.7" />
<text transform="translate(370.6 818.6) scale(1 1.035)" font-size="25" text-anchor="end">Apoptosis</text>
<rect x="390.8" y="845.2" width="187.4" height="28.0" fill="#fff" stroke="#000" stroke-width="5"/>
<circle cx="580.8" cy="859.2" r="8" fill="#000"/>
<line x1="376.0" y1="859.2" x2="390.1" y2="859.2" stroke="#000" stroke-width="3.7" />
<text transform="translate(370.6 867.6) scale(1 1.035)" font-size="25" text-anchor="end">Immune regulation</text>
<rect x="390.8" y="894.3" width="195.0" height="28.0" fill="#fff" stroke="#000" stroke-width="5"/>
<circle cx="588.4" cy="908.3" r="8" fill="#000"/>
<line x1="376.0" y1="908.3" x2="390.1" y2="908.3" stroke="#000" stroke-width="3.7" />
<text transform="translate(370.6 916.7) scale(1 1.035)" font-size="25" text-anchor="end">Cell-cell adhesion</text>
<rect x="390.8" y="943.4" width="234.9" height="28.0" fill="#fff" stroke="#000" stroke-width="5"/>
<circle cx="628.3" cy="957.4" r="8" fill="#000"/>
<line x1="376.0" y1="957.4" x2="390.1" y2="957.4" stroke="#000" stroke-width="3.7" />
<text transform="translate(370.6 965.8) scale(1 1.035)" font-size="25" text-anchor="end">T cell activation</text>
<rect x="390.8" y="992.4" width="319.8" height="28.0" fill="#fff" stroke="#000" stroke-width="5"/>
<circle cx="713.2" cy="1006.4" r="8" fill="#000"/>
<line x1="376.0" y1="1006.4" x2="390.1" y2="1006.4" stroke="#000" stroke-width="3.7" />
<text transform="translate(370.6 1014.8) scale(1 1.035)" font-size="25" text-anchor="end">Antigen presentation via MHCII</text>
<rect x="390.8" y="1041.5" width="353.0" height="28.0" fill="#fff" stroke="#000" stroke-width="5"/>
<circle cx="746.4" cy="1055.5" r="8" fill="#000"/>
<line x1="376.0" y1="1055.5" x2="390.1" y2="1055.5" stroke="#000" stroke-width="3.7" />
<text transform="translate(370.6 1063.9) scale(1 1.035)" font-size="25" text-anchor="end">Ig mediated immune response</text>
<line x1="390.1" y1="629.2" x2="390.1" y2="1101.5" stroke="#000" stroke-width="3.7" />
<line x1="388.3" y1="1087.4" x2="766.6" y2="1087.4" stroke="#000" stroke-width="3.8" />
<line x1="390.1" y1="1087.4" x2="390.1" y2="1101.5" stroke="#000" stroke-width="3.7" />
<text transform="translate(386.9 1128.9) scale(1 1.035)" font-size="27.4" text-anchor="middle">0</text>
<line x1="514.7" y1="1087.4" x2="514.7" y2="1101.5" stroke="#000" stroke-width="3.7" />
<text transform="translate(513.0 1128.9) scale(1 1.035)" font-size="27.4" text-anchor="middle">-5</text>
<line x1="639.6" y1="1087.4" x2="639.6" y2="1101.5" stroke="#000" stroke-width="3.7" />
<text transform="translate(644.7 1128.9) scale(1 1.035)" font-size="27.4" text-anchor="middle">-10</text>
<line x1="764.7" y1="1087.4" x2="764.7" y2="1101.5" stroke="#000" stroke-width="3.7" />
<text transform="translate(770.1 1128.9) scale(1 1.035)" font-size="27.4" text-anchor="middle">-15</text>
<text transform="translate(579.3 1176.2) scale(1 1.035)" font-size="31.5" text-anchor="middle" font-weight="normal">log P-value</text>
</g>
<g id="panelE">
<text transform="translate(959.3 643.0) scale(1.204 1.0)" font-family="'Liberation Serif', 'Times New Roman', serif" font-size="68.4" font-weight="normal" stroke="#000" stroke-width="0.55" stroke-linejoin="round"><tspan x="0">E</tspan><tspan x="42.1" textLength="14.8" lengthAdjust="spacingAndGlyphs">.</tspan></text>
<text transform="translate(1409.0 618.6) scale(1 1.035)" font-size="25.6" text-anchor="middle" font-weight="bold" font-style="italic">C3AR1</text>
<rect x="1174.6" y="1087.4" width="44.6" height="12.8" fill="#ffffff" stroke="#000" stroke-width="3.8"/>
<rect x="1248.6" y="1085.6" width="44.6" height="14.6" fill="#ffffff" stroke="#000" stroke-width="3.8"/>
<rect x="1322.9" y="1086.1" width="44.6" height="14.1" fill="#ffffff" stroke="#000" stroke-width="3.8"/>
<rect x="1447.1" y="936.5" width="44.6" height="163.7" fill="#dedede" stroke="#000" stroke-width="3.8"/>
<rect x="1520.9" y="958.6" width="44.6" height="141.6" fill="#f6920c" stroke="#000" stroke-width="3.8"/>
<rect x="1595.0" y="1011.4" width="44.6" height="88.8" fill="#4a50b0" stroke="#000" stroke-width="3.8"/>
<line x1="1469.4" y1="877.3" x2="1469.4" y2="989.0" stroke="#000" stroke-width="2.6" />
<line x1="1456.4" y1="877.3" x2="1482.4" y2="877.3" stroke="#000" stroke-width="2.6" />
<line x1="1456.4" y1="989.0" x2="1482.4" y2="989.0" stroke="#000" stroke-width="2.6" />
<line x1="1543.2" y1="896.5" x2="1543.2" y2="1015.7" stroke="#000" stroke-width="2.6" />
<line x1="1530.2" y1="896.5" x2="1556.2" y2="896.5" stroke="#000" stroke-width="2.6" />
<line x1="1530.2" y1="1015.7" x2="1556.2" y2="1015.7" stroke="#000" stroke-width="2.6" />
<line x1="1617.3" y1="959.5" x2="1617.3" y2="1057.3" stroke="#000" stroke-width="2.6" />
<line x1="1604.3" y1="959.5" x2="1630.3" y2="959.5" stroke="#000" stroke-width="2.6" />
<line x1="1604.3" y1="1057.3" x2="1630.3" y2="1057.3" stroke="#000" stroke-width="2.6" />
<rect x="1171.7" y="1076.3" width="16" height="16" rx="1.6" fill="#ffffff" stroke="#000" stroke-width="2.9"/>
<rect x="1205.8" y="1079.5" width="16" height="16" rx="1.6" fill="#ffffff" stroke="#000" stroke-width="2.9"/>
<rect x="1188.9" y="1079.6" width="16" height="16" rx="1.6" fill="#ffffff" stroke="#000" stroke-width="2.9"/>
<rect x="1202.0" y="1073.8" width="16" height="16" rx="1.6" fill="#ffffff" stroke="#000" stroke-width="2.9"/>
<rect x="1188.9" y="1062.0" width="16" height="16" rx="1.6" fill="#ffffff" stroke="#000" stroke-width="2.9"/>
<rect x="1175.7" y="1063.8" width="16" height="16" rx="1.6" fill="#ffffff" stroke="#000" stroke-width="2.9"/>
<rect x="1192.6" y="1068.5" width="16" height="16" rx="1.6" fill="#ffffff" stroke="#000" stroke-width="2.9"/>
<rect x="1246.5" y="1073.7" width="16" height="16" rx="1.6" fill="#fdd97f" stroke="#000" stroke-width="2.9"/>
<rect x="1258.8" y="1073.7" width="16" height="16" rx="1.6" fill="#fdd97f" stroke="#000" stroke-width="2.9"/>
<rect x="1278.8" y="1077.0" width="16" height="16" rx="1.6" fill="#fdd97f" stroke="#000" stroke-width="2.9"/>
<rect x="1268.8" y="1079.0" width="16" height="16" rx="1.6" fill="#fdd97f" stroke="#000" stroke-width="2.9"/>
<rect x="1273.8" y="1069.3" width="16" height="16" rx="1.6" fill="#fdd97f" stroke="#000" stroke-width="2.9"/>
<rect x="1251.9" y="1063.2" width="16" height="16" rx="1.6" fill="#fdd97f" stroke="#000" stroke-width="2.9"/>
<rect x="1262.9" y="1042.7" width="16" height="16" rx="1.6" fill="#fdd97f" stroke="#000" stroke-width="2.9"/>
<rect x="1271.3" y="1054.0" width="16" height="16" rx="1.6" fill="#fdd97f" stroke="#000" stroke-width="2.9"/>
<rect x="1254.4" y="1057.0" width="16" height="16" rx="1.6" fill="#fdd97f" stroke="#000" stroke-width="2.9"/>
<rect x="1265.7" y="1057.6" width="16" height="16" rx="1.6" fill="#fdd97f" stroke="#000" stroke-width="2.9"/>
<rect x="1320.7" y="1076.5" width="16" height="16" rx="1.6" fill="#a2d8ef" stroke="#000" stroke-width="2.9"/>
<rect x="1353.1" y="1075.5" width="16" height="16" rx="1.6" fill="#a2d8ef" stroke="#000" stroke-width="2.9"/>
<rect x="1333.8" y="1078.8" width="16" height="16" rx="1.6" fill="#a2d8ef" stroke="#000" stroke-width="2.9"/>
<rect x="1346.9" y="1079.0" width="16" height="16" rx="1.6" fill="#a2d8ef" stroke="#000" stroke-width="2.9"/>
<rect x="1340.0" y="1064.5" width="16" height="16" rx="1.6" fill="#a2d8ef" stroke="#000" stroke-width="2.9"/>
<rect x="1346.9" y="1053.5" width="16" height="16" rx="1.6" fill="#a2d8ef" stroke="#000" stroke-width="2.9"/>
<rect x="1327.4" y="1061.4" width="16" height="16" rx="1.6" fill="#a2d8ef" stroke="#000" stroke-width="2.9"/>
<rect x="1333.8" y="1059.7" width="16" height="16" rx="1.6" fill="#a2d8ef" stroke="#000" stroke-width="2.9"/>
<rect x="1461.1" y="849.1" width="16" height="16" rx="1.6" fill="#dedede" stroke="#000" stroke-width="2.9"/>
<rect x="1455.9" y="875.5" width="16" height="16" rx="1.6" fill="#dedede" stroke="#000" stroke-width="2.9"/>
<rect x="1477.3" y="890.7" width="16" height="16" rx="1.6" fill="#dedede" stroke="#000" stroke-width="2.9"/>
<rect x="1444.2" y="892.4" width="16" height="16" rx="1.6" fill="#dedede" stroke="#000" stroke-width="2.9"/>
<rect x="1455.6" y="903.7" width="16" height="16" rx="1.6" fill="#dedede" stroke="#000" stroke-width="2.9"/>
<rect x="1466.9" y="894.0" width="16" height="16" rx="1.6" fill="#dedede" stroke="#000" stroke-width="2.9"/>
<rect x="1455.6" y="980.1" width="16" height="16" rx="1.6" fill="#dedede" stroke="#000" stroke-width="2.9"/>
<rect x="1466.9" y="973.6" width="16" height="16" rx="1.6" fill="#dedede" stroke="#000" stroke-width="2.9"/>
<rect x="1466.9" y="992.1" width="16" height="16" rx="1.6" fill="#dedede" stroke="#000" stroke-width="2.9"/>
<rect x="1455.6" y="1008.7" width="16" height="16" rx="1.6" fill="#dedede" stroke="#000" stroke-width="2.9"/>
<rect x="1518.9" y="876.1" width="16" height="16" rx="1.6" fill="#f6920c" stroke="#000" stroke-width="2.9"/>
<rect x="1535.2" y="870.6" width="16" height="16" rx="1.6" fill="#f6920c" stroke="#000" stroke-width="2.9"/>
<rect x="1551.1" y="884.2" width="16" height="16" rx="1.6" fill="#f6920c" stroke="#000" stroke-width="2.9"/>
<rect x="1518.9" y="916.1" width="16" height="16" rx="1.6" fill="#f6920c" stroke="#000" stroke-width="2.9"/>
<rect x="1551.1" y="915.1" width="16" height="16" rx="1.6" fill="#f6920c" stroke="#000" stroke-width="2.9"/>
<rect x="1535.2" y="923.2" width="16" height="16" rx="1.6" fill="#f6920c" stroke="#000" stroke-width="2.9"/>
<rect x="1535.2" y="939.5" width="16" height="16" rx="1.6" fill="#f6920c" stroke="#000" stroke-width="2.9"/>
<rect x="1518.9" y="990.8" width="16" height="16" rx="1.6" fill="#f6920c" stroke="#000" stroke-width="2.9"/>
<rect x="1551.1" y="992.1" width="16" height="16" rx="1.6" fill="#f6920c" stroke="#000" stroke-width="2.9"/>
<rect x="1535.2" y="1007.0" width="16" height="16" rx="1.6" fill="#f6920c" stroke="#000" stroke-width="2.9"/>
<rect x="1551.1" y="1021.7" width="16" height="16" rx="1.6" fill="#f6920c" stroke="#000" stroke-width="2.9"/>
<rect x="1518.9" y="1036.9" width="16" height="16" rx="1.6" fill="#f6920c" stroke="#000" stroke-width="2.9"/>
<rect x="1601.5" y="933.0" width="16" height="16" rx="1.6" fill="#4a50b0" stroke="#000" stroke-width="2.9"/>
<rect x="1609.6" y="930.7" width="16" height="16" rx="1.6" fill="#4a50b0" stroke="#000" stroke-width="2.9"/>
<rect x="1609.6" y="949.2" width="16" height="16" rx="1.6" fill="#4a50b0" stroke="#000" stroke-width="2.9"/>
<rect x="1609.6" y="966.1" width="16" height="16" rx="1.6" fill="#4a50b0" stroke="#000" stroke-width="2.9"/>
<rect x="1625.8" y="1024.9" width="16" height="16" rx="1.6" fill="#4a50b0" stroke="#000" stroke-width="2.9"/>
<rect x="1593.3" y="1046.7" width="16" height="16" rx="1.6" fill="#4a50b0" stroke="#000" stroke-width="2.9"/>
<rect x="1625.8" y="1046.7" width="16" height="16" rx="1.6" fill="#4a50b0" stroke="#000" stroke-width="2.9"/>
<rect x="1609.6" y="1040.2" width="16" height="16" rx="1.6" fill="#4a50b0" stroke="#000" stroke-width="2.9"/>
<rect x="1601.5" y="1036.0" width="16" height="16" rx="1.6" fill="#4a50b0" stroke="#000" stroke-width="2.9"/>
<rect x="1617.7" y="1037.9" width="16" height="16" rx="1.6" fill="#4a50b0" stroke="#000" stroke-width="2.9"/>
<line x1="1148.1" y1="698.5" x2="1148.1" y2="1102.0" stroke="#000" stroke-width="3.4" />
<line x1="1133.8" y1="1100.2" x2="1666.4" y2="1100.2" stroke="#000" stroke-width="3.7" />
<text transform="translate(1129.6 1107.2) scale(1 1.035)" font-size="20.6" text-anchor="end" font-weight="bold">0</text>
<line x1="1133.8" y1="1020.2" x2="1148.1" y2="1020.2" stroke="#000" stroke-width="3.4" />
<text transform="translate(1129.6 1027.2) scale(1 1.035)" font-size="20.6" text-anchor="end" font-weight="bold">3</text>
<line x1="1133.8" y1="940.2" x2="1148.1" y2="940.2" stroke="#000" stroke-width="3.4" />
<text transform="translate(1129.6 947.2) scale(1 1.035)" font-size="20.6" text-anchor="end" font-weight="bold">6</text>
<line x1="1133.8" y1="860.2" x2="1148.1" y2="860.2" stroke="#000" stroke-width="3.4" />
<text transform="translate(1129.6 867.2) scale(1 1.035)" font-size="20.6" text-anchor="end" font-weight="bold">9</text>
<line x1="1133.8" y1="780.2" x2="1148.1" y2="780.2" stroke="#000" stroke-width="3.4" />
<text transform="translate(1129.6 787.2) scale(1 1.035)" font-size="20.6" text-anchor="end" font-weight="bold">12</text>
<line x1="1133.8" y1="700.2" x2="1148.1" y2="700.2" stroke="#000" stroke-width="3.4" />
<text transform="translate(1129.6 707.2) scale(1 1.035)" font-size="20.6" text-anchor="end" font-weight="bold">15</text>
<line x1="1270.9" y1="1100.2" x2="1270.9" y2="1113.8" stroke="#000" stroke-width="3.4" />
<text transform="translate(1271.3 1135.9) scale(1 1.035)" font-size="20.8" text-anchor="middle" font-weight="bold">EOL-1 only</text>
<line x1="1542.9" y1="1100.2" x2="1542.9" y2="1113.8" stroke="#000" stroke-width="3.4" />
<text transform="translate(1543.3 1135.9) scale(1 1.035)" font-size="20.8" text-anchor="middle" font-weight="bold">EOL-1 + EPC2</text>
<text transform="translate(1093.6 900.5) rotate(-90) scale(1 1.035)" font-size="21.6" text-anchor="middle" font-weight="bold">Fold change relative to WT (ΔΔCT)</text>
<path d="M1468.8 667.1V638.8H1617.6V667.1" fill="none" stroke="#000" stroke-width="3.1" stroke-linecap="round" stroke-linejoin="miter"/>
<text transform="translate(1542.5 623.8) scale(1 1.035)" font-size="22" text-anchor="middle">0.0011</text>
<path d="M1344.7 726.9V707.7H1617.6V726.9" fill="none" stroke="#000" stroke-width="3.1" stroke-linecap="round" stroke-linejoin="miter"/>
<text transform="translate(1481.2 692.7) scale(1 1.035)" font-size="22" text-anchor="middle">0.0057</text>
<path d="M1270.9 783.7V765.2H1543.5V781.4" fill="none" stroke="#000" stroke-width="3.1" stroke-linecap="round" stroke-linejoin="miter"/>
<text transform="translate(1406.7 750.2) scale(1 1.035)" font-size="22" text-anchor="middle">&lt;0.0001</text>
<path d="M1196.5 839.3V820.7H1463.6V836.7" fill="none" stroke="#000" stroke-width="3.1" stroke-linecap="round" stroke-linejoin="miter"/>
<text transform="translate(1329.7 805.5) scale(1 1.035)" font-size="22" text-anchor="middle">&lt;0.0001</text>
<path d="M1474.6 839.3V820.7H1537.7V839.3" fill="none" stroke="#000" stroke-width="3.1" stroke-linecap="round" stroke-linejoin="miter"/>
<text transform="translate(1506.2 805.5) scale(1 1.035)" font-size="22" text-anchor="middle">0.7833</text>
<path d="M1549.0 839.3V820.7H1617.6V839.3" fill="none" stroke="#000" stroke-width="3.1" stroke-linecap="round" stroke-linejoin="miter"/>
<text transform="translate(1583.7 805.5) scale(1 1.035)" font-size="22" text-anchor="middle">0.0310</text>
<rect x="1700.6" y="740.9" width="31.0" height="16.6" fill="#ffffff" stroke="#000" stroke-width="2.8"/>
<text transform="translate(1748.6 757.8) scale(1 1.035)" font-size="23.2">WT</text>
<rect x="1700.6" y="780.7" width="31.0" height="16.6" fill="#a5a19f" stroke="#000" stroke-width="2.8"/>
<text transform="translate(1748.6 797.6) scale(1 1.035)" font-size="23.2">WT+EPC2</text>
<rect x="1700.6" y="841.7" width="31.0" height="16.6" fill="#a2d8ef" stroke="#000" stroke-width="2.8"/>
<text transform="translate(1748.6 858.6) scale(1 1.035)" font-size="23.2">ATF3-KO</text>
<rect x="1700.6" y="881.4" width="31.0" height="16.6" fill="#4a50b0" stroke="#000" stroke-width="2.8"/>
<text transform="translate(1748.6 898.3) scale(1 1.035)" font-size="23.2">ATF3-KO+EPC2</text>
<rect x="1700.6" y="985.9" width="31.0" height="16.6" fill="#fdd97f" stroke="#000" stroke-width="2.8"/>
<text transform="translate(1748.6 1002.8) scale(1 1.035)" font-size="23.2">JUN-KO</text>
<rect x="1700.6" y="1025.7" width="31.0" height="16.6" fill="#f6920c" stroke="#000" stroke-width="2.8"/>
<text transform="translate(1748.6 1042.6) scale(1 1.035)" font-size="23.2">JUN-KO+EPC2</text>
</g>
<g id="panelF1">
<text transform="translate(35.8 1317.6) scale(1.169 1.012)" font-family="'Liberation Serif', 'Times New Roman', serif" font-size="68.4" font-weight="normal" stroke="#000" stroke-width="0.55" stroke-linejoin="round"><tspan x="0">F</tspan><tspan x="39.8" textLength="15.3" lengthAdjust="spacingAndGlyphs">.</tspan></text>
<rect x="142.0" y="1315.6" width="486.4" height="438.2" fill="#fff"/>
<rect x="333.2" y="1315.6" width="295.2" height="438.2" fill="#fdf4f5"/>
<clipPath id="cf1"><rect x="140" y="1310" width="489.3" height="446"/></clipPath>
<g clip-path="url(#cf1)">
<path d="M140.4 1424.2C165.5 1424.1 190.6 1424.2 215.8 1424.0C221.8 1423.9 227.9 1423.0 234.0 1422.1C237.4 1421.6 240.9 1420.9 244.3 1419.5C246.9 1418.5 249.5 1415.8 252.1 1413.0C254.7 1410.3 257.3 1405.8 259.9 1401.4C263.4 1395.5 266.9 1390.2 270.3 1380.6C272.1 1375.8 273.8 1364.4 275.5 1359.8C277.3 1355.2 279.0 1353.6 280.7 1349.4C282.9 1344.1 285.1 1330.6 287.2 1328.6C289.2 1326.7 291.2 1325.2 293.2 1325.2C294.2 1325.2 295.3 1330.4 296.3 1332.5C298.1 1336.0 299.8 1337.5 301.5 1341.6C303.3 1345.6 305.0 1353.7 306.7 1359.8C308.4 1365.8 310.2 1371.9 311.9 1378.0C313.6 1384.0 315.4 1391.1 317.1 1396.2C318.8 1401.2 320.6 1405.9 322.3 1409.1C324.0 1412.4 325.8 1415.5 327.5 1416.9C329.4 1418.5 331.3 1419.5 333.2 1420.1C337.4 1421.2 341.5 1421.7 345.7 1422.1C351.8 1422.8 357.8 1423.3 363.9 1423.4C381.2 1423.9 398.5 1424.2 415.9 1424.2C486.7 1424.2 557.6 1424.2 628.4 1424.2" fill="none" stroke="#000000" stroke-width="1.7" stroke-linejoin="round"/>
<path d="M140.4 1478.8C167.2 1478.7 194.1 1478.7 221.0 1478.5C227.0 1478.5 233.1 1477.9 239.1 1477.2C242.6 1476.8 246.1 1476.0 249.5 1474.6C252.1 1473.6 254.7 1469.9 257.3 1467.6C259.9 1465.4 262.5 1464.4 265.1 1461.1C267.3 1458.4 269.5 1451.5 271.6 1445.5C273.8 1439.6 276.0 1431.8 278.1 1424.7C280.7 1416.3 283.3 1406.3 285.9 1398.8C288.1 1392.4 290.3 1384.1 292.4 1381.9C294.8 1379.5 297.1 1377.4 299.4 1377.4C301.2 1377.4 302.9 1379.5 304.6 1381.9C306.2 1384.0 307.8 1392.4 309.3 1396.2C311.0 1400.4 312.8 1402.1 314.5 1406.5C316.7 1412.1 318.8 1423.1 321.0 1429.9C323.2 1436.8 325.3 1443.3 327.5 1448.1C330.1 1453.9 332.7 1459.3 335.3 1462.4C338.8 1466.6 342.2 1469.7 345.7 1471.5C349.2 1473.3 352.6 1474.8 356.1 1475.4C363.0 1476.7 370.0 1477.4 376.9 1477.8C389.9 1478.4 402.9 1478.8 415.9 1478.8C486.7 1478.8 557.6 1478.8 628.4 1478.8Z" fill="#dcdcdc" fill-opacity="0.55"/>
<path d="M140.4 1478.8C167.2 1478.7 194.1 1478.7 221.0 1478.5C227.0 1478.5 233.1 1477.9 239.1 1477.2C242.6 1476.8 246.1 1476.0 249.5 1474.6C252.1 1473.6 254.7 1469.9 257.3 1467.6C259.9 1465.4 262.5 1464.4 265.1 1461.1C267.3 1458.4 269.5 1451.5 271.6 1445.5C273.8 1439.6 276.0 1431.8 278.1 1424.7C280.7 1416.3 283.3 1406.3 285.9 1398.8C288.1 1392.4 290.3 1384.1 292.4 1381.9C294.8 1379.5 297.1 1377.4 299.4 1377.4C301.2 1377.4 302.9 1379.5 304.6 1381.9C306.2 1384.0 307.8 1392.4 309.3 1396.2C311.0 1400.4 312.8 1402.1 314.5 1406.5C316.7 1412.1 318.8 1423.1 321.0 1429.9C323.2 1436.8 325.3 1443.3 327.5 1448.1C330.1 1453.9 332.7 1459.3 335.3 1462.4C338.8 1466.6 342.2 1469.7 345.7 1471.5C349.2 1473.3 352.6 1474.8 356.1 1475.4C363.0 1476.7 370.0 1477.4 376.9 1477.8C389.9 1478.4 402.9 1478.8 415.9 1478.8C486.7 1478.8 557.6 1478.8 628.4 1478.8" fill="none" stroke="#c9c9c9" stroke-width="1.45" stroke-linejoin="round"/>
<path d="M140.4 1533.9C166.4 1533.7 192.4 1533.8 218.4 1533.4C223.6 1533.3 228.8 1532.3 234.0 1531.3C237.4 1530.6 240.9 1529.2 244.3 1527.4C247.8 1525.6 251.3 1522.8 254.7 1518.3C257.3 1514.9 259.9 1506.6 262.5 1500.1C265.1 1493.6 267.7 1485.8 270.3 1479.3C272.9 1472.8 275.5 1467.0 278.1 1461.1C280.7 1455.3 283.3 1447.8 285.9 1444.2C288.7 1440.4 291.5 1435.9 294.2 1435.9C297.5 1435.9 300.8 1438.3 304.1 1440.3C306.7 1442.0 309.3 1444.4 311.9 1448.1C313.6 1450.6 315.4 1456.5 317.1 1459.8C319.7 1464.8 322.3 1468.9 324.9 1472.8C327.7 1476.9 330.5 1481.5 333.2 1484.0C337.4 1487.8 341.5 1488.7 345.7 1492.3C348.3 1494.6 350.9 1498.8 353.5 1501.4C357.0 1504.9 360.4 1508.3 363.9 1510.5C367.4 1512.7 370.8 1513.7 374.3 1515.7C377.7 1517.7 381.2 1521.4 384.7 1523.0C389.9 1525.4 395.1 1526.9 400.3 1528.2C407.2 1529.9 414.1 1531.2 421.1 1532.1C428.0 1532.9 434.9 1533.9 441.9 1533.9C504.0 1533.9 566.2 1533.9 628.4 1533.9Z" fill="#8a8888" fill-opacity="0.68"/>
<path d="M140.4 1533.9C166.4 1533.7 192.4 1533.8 218.4 1533.4C223.6 1533.3 228.8 1532.3 234.0 1531.3C237.4 1530.6 240.9 1529.2 244.3 1527.4C247.8 1525.6 251.3 1522.8 254.7 1518.3C257.3 1514.9 259.9 1506.6 262.5 1500.1C265.1 1493.6 267.7 1485.8 270.3 1479.3C272.9 1472.8 275.5 1467.0 278.1 1461.1C280.7 1455.3 283.3 1447.8 285.9 1444.2C288.7 1440.4 291.5 1435.9 294.2 1435.9C297.5 1435.9 300.8 1438.3 304.1 1440.3C306.7 1442.0 309.3 1444.4 311.9 1448.1C313.6 1450.6 315.4 1456.5 317.1 1459.8C319.7 1464.8 322.3 1468.9 324.9 1472.8C327.7 1476.9 330.5 1481.5 333.2 1484.0C337.4 1487.8 341.5 1488.7 345.7 1492.3C348.3 1494.6 350.9 1498.8 353.5 1501.4C357.0 1504.9 360.4 1508.3 363.9 1510.5C367.4 1512.7 370.8 1513.7 374.3 1515.7C377.7 1517.7 381.2 1521.4 384.7 1523.0C389.9 1525.4 395.1 1526.9 400.3 1528.2C407.2 1529.9 414.1 1531.2 421.1 1532.1C428.0 1532.9 434.9 1533.9 441.9 1533.9C504.0 1533.9 566.2 1533.9 628.4 1533.9" fill="none" stroke="#3c3c3c" stroke-width="1.45" stroke-linejoin="round"/>
<path d="M140.4 1588.9C165.5 1588.7 190.6 1588.7 215.8 1588.3C221.8 1588.3 227.9 1587.7 234.0 1587.0C238.3 1586.5 242.6 1585.4 246.9 1583.7C250.4 1582.3 253.9 1579.5 257.3 1575.9C259.9 1573.1 262.5 1568.2 265.1 1562.9C267.3 1558.5 269.5 1552.2 271.6 1546.0C273.8 1539.8 276.0 1531.9 278.1 1525.2C280.7 1517.1 283.3 1507.4 285.9 1501.8C288.7 1495.8 291.5 1487.8 294.2 1487.8C295.8 1487.8 297.4 1489.3 298.9 1489.3C300.2 1489.3 301.5 1488.3 302.8 1488.3C305.0 1488.3 307.1 1499.0 309.3 1504.4C311.0 1508.7 312.8 1512.6 314.5 1517.4C316.7 1523.5 318.8 1531.7 321.0 1538.2C323.2 1544.7 325.3 1551.6 327.5 1556.4C330.1 1562.2 332.7 1567.4 335.3 1570.7C338.8 1575.0 342.2 1578.5 345.7 1580.3C350.0 1582.6 354.4 1584.2 358.7 1585.0C364.8 1586.1 370.8 1586.6 376.9 1587.0C389.9 1588.0 402.9 1588.9 415.9 1588.9C486.7 1588.9 557.6 1588.9 628.4 1588.9Z" fill="#fdd9b0" fill-opacity="0.6"/>
<path d="M140.4 1588.9C165.5 1588.7 190.6 1588.7 215.8 1588.3C221.8 1588.3 227.9 1587.7 234.0 1587.0C238.3 1586.5 242.6 1585.4 246.9 1583.7C250.4 1582.3 253.9 1579.5 257.3 1575.9C259.9 1573.1 262.5 1568.2 265.1 1562.9C267.3 1558.5 269.5 1552.2 271.6 1546.0C273.8 1539.8 276.0 1531.9 278.1 1525.2C280.7 1517.1 283.3 1507.4 285.9 1501.8C288.7 1495.8 291.5 1487.8 294.2 1487.8C295.8 1487.8 297.4 1489.3 298.9 1489.3C300.2 1489.3 301.5 1488.3 302.8 1488.3C305.0 1488.3 307.1 1499.0 309.3 1504.4C311.0 1508.7 312.8 1512.6 314.5 1517.4C316.7 1523.5 318.8 1531.7 321.0 1538.2C323.2 1544.7 325.3 1551.6 327.5 1556.4C330.1 1562.2 332.7 1567.4 335.3 1570.7C338.8 1575.0 342.2 1578.5 345.7 1580.3C350.0 1582.6 354.4 1584.2 358.7 1585.0C364.8 1586.1 370.8 1586.6 376.9 1587.0C389.9 1588.0 402.9 1588.9 415.9 1588.9C486.7 1588.9 557.6 1588.9 628.4 1588.9" fill="none" stroke="#fbc88c" stroke-width="1.45" stroke-linejoin="round"/>
<path d="M140.4 1644.0C165.5 1643.8 190.6 1643.8 215.8 1643.4C221.0 1643.4 226.2 1642.6 231.4 1641.6C234.8 1641.0 238.3 1639.5 241.7 1637.5C245.2 1635.5 248.7 1631.4 252.1 1626.5C254.7 1622.9 257.3 1615.8 259.9 1611.0C261.7 1607.7 263.4 1606.2 265.1 1601.9C267.3 1596.5 269.5 1578.0 271.6 1572.0C273.8 1565.9 276.0 1562.6 278.1 1559.0C280.7 1554.7 283.3 1549.2 285.9 1548.1C288.5 1546.9 291.1 1546.0 293.7 1546.0C296.3 1546.0 298.9 1546.1 301.5 1546.5C303.3 1546.7 305.0 1556.0 306.7 1559.0C309.3 1563.5 311.9 1565.9 314.5 1569.4C317.1 1572.8 319.7 1575.6 322.3 1579.8C324.0 1582.6 325.8 1588.0 327.5 1590.2C329.4 1592.6 331.3 1593.5 333.2 1595.4C337.4 1599.4 341.5 1607.4 345.7 1608.4C347.4 1608.8 349.2 1608.7 350.9 1609.1C353.5 1609.8 356.1 1612.9 358.7 1614.9C362.2 1617.4 365.6 1620.3 369.1 1622.7C372.6 1625.0 376.0 1627.5 379.5 1629.1C382.9 1630.8 386.4 1631.9 389.9 1633.0C395.1 1634.7 400.3 1636.2 405.5 1637.5C412.4 1639.1 419.3 1640.9 426.3 1641.6C435.8 1642.7 445.3 1643.7 454.8 1643.7C512.7 1643.9 570.6 1643.9 628.4 1644.0Z" fill="#f6a65a" fill-opacity="0.6"/>
<path d="M140.4 1644.0C165.5 1643.8 190.6 1643.8 215.8 1643.4C221.0 1643.4 226.2 1642.6 231.4 1641.6C234.8 1641.0 238.3 1639.5 241.7 1637.5C245.2 1635.5 248.7 1631.4 252.1 1626.5C254.7 1622.9 257.3 1615.8 259.9 1611.0C261.7 1607.7 263.4 1606.2 265.1 1601.9C267.3 1596.5 269.5 1578.0 271.6 1572.0C273.8 1565.9 276.0 1562.6 278.1 1559.0C280.7 1554.7 283.3 1549.2 285.9 1548.1C288.5 1546.9 291.1 1546.0 293.7 1546.0C296.3 1546.0 298.9 1546.1 301.5 1546.5C303.3 1546.7 305.0 1556.0 306.7 1559.0C309.3 1563.5 311.9 1565.9 314.5 1569.4C317.1 1572.8 319.7 1575.6 322.3 1579.8C324.0 1582.6 325.8 1588.0 327.5 1590.2C329.4 1592.6 331.3 1593.5 333.2 1595.4C337.4 1599.4 341.5 1607.4 345.7 1608.4C347.4 1608.8 349.2 1608.7 350.9 1609.1C353.5 1609.8 356.1 1612.9 358.7 1614.9C362.2 1617.4 365.6 1620.3 369.1 1622.7C372.6 1625.0 376.0 1627.5 379.5 1629.1C382.9 1630.8 386.4 1631.9 389.9 1633.0C395.1 1634.7 400.3 1636.2 405.5 1637.5C412.4 1639.1 419.3 1640.9 426.3 1641.6C435.8 1642.7 445.3 1643.7 454.8 1643.7C512.7 1643.9 570.6 1643.9 628.4 1644.0" fill="none" stroke="#ef7d0a" stroke-width="1.5" stroke-linejoin="round"/>
<path d="M140.4 1698.8C163.8 1698.6 187.2 1698.7 210.6 1698.3C216.6 1698.2 222.7 1697.5 228.8 1696.7C233.1 1696.2 237.4 1695.1 241.7 1693.6C246.1 1692.1 250.4 1689.2 254.7 1685.0C258.2 1681.7 261.7 1675.5 265.1 1668.1C267.7 1662.6 270.3 1653.3 272.9 1644.7C275.5 1636.2 278.1 1623.6 280.7 1616.2C282.9 1609.9 285.1 1602.8 287.2 1600.6C290.0 1597.7 292.8 1595.4 295.5 1595.4C297.5 1595.4 299.5 1599.5 301.5 1603.2C303.3 1606.3 305.0 1612.8 306.7 1618.8C308.4 1624.7 310.2 1632.6 311.9 1639.5C313.6 1646.5 315.4 1654.6 317.1 1660.3C319.3 1667.5 321.4 1674.5 323.6 1678.5C325.8 1682.6 327.9 1685.8 330.1 1687.6C332.7 1689.7 335.3 1690.9 337.9 1692.0C342.2 1693.9 346.6 1695.7 350.9 1696.2C359.6 1697.3 368.2 1697.7 376.9 1698.0C389.9 1698.4 402.9 1698.8 415.9 1698.8C486.7 1698.8 557.6 1698.8 628.4 1698.8Z" fill="#a6c6ea" fill-opacity="0.6"/>
<path d="M140.4 1698.8C163.8 1698.6 187.2 1698.7 210.6 1698.3C216.6 1698.2 222.7 1697.5 228.8 1696.7C233.1 1696.2 237.4 1695.1 241.7 1693.6C246.1 1692.1 250.4 1689.2 254.7 1685.0C258.2 1681.7 261.7 1675.5 265.1 1668.1C267.7 1662.6 270.3 1653.3 272.9 1644.7C275.5 1636.2 278.1 1623.6 280.7 1616.2C282.9 1609.9 285.1 1602.8 287.2 1600.6C290.0 1597.7 292.8 1595.4 295.5 1595.4C297.5 1595.4 299.5 1599.5 301.5 1603.2C303.3 1606.3 305.0 1612.8 306.7 1618.8C308.4 1624.7 310.2 1632.6 311.9 1639.5C313.6 1646.5 315.4 1654.6 317.1 1660.3C319.3 1667.5 321.4 1674.5 323.6 1678.5C325.8 1682.6 327.9 1685.8 330.1 1687.6C332.7 1689.7 335.3 1690.9 337.9 1692.0C342.2 1693.9 346.6 1695.7 350.9 1696.2C359.6 1697.3 368.2 1697.7 376.9 1698.0C389.9 1698.4 402.9 1698.8 415.9 1698.8C486.7 1698.8 557.6 1698.8 628.4 1698.8" fill="none" stroke="#6aa3dc" stroke-width="1.45" stroke-linejoin="round"/>
<path d="M140.4 1753.9C171.6 1753.6 202.8 1753.7 234.0 1753.1C238.3 1753.0 242.6 1752.3 246.9 1751.3C250.4 1750.5 253.9 1748.7 257.3 1746.1C259.9 1744.2 262.5 1740.1 265.1 1735.7C267.7 1731.3 270.3 1724.3 272.9 1717.5C275.5 1710.7 278.1 1702.3 280.7 1694.1C283.3 1685.9 285.9 1675.0 288.5 1668.1C290.7 1662.4 292.9 1656.1 295.0 1653.8C296.5 1652.3 298.0 1650.7 299.4 1650.7C301.9 1650.7 304.3 1654.3 306.7 1657.7C308.4 1660.2 310.2 1666.4 311.9 1670.7C313.6 1675.1 315.4 1678.6 317.1 1683.7C319.3 1690.1 321.4 1700.8 323.6 1707.1C325.3 1712.2 327.1 1716.5 328.8 1720.1C330.3 1723.1 331.7 1725.9 333.2 1727.9C336.5 1732.4 339.8 1736.3 343.1 1738.3C347.4 1740.9 351.8 1742.1 356.1 1743.5C362.2 1745.4 368.2 1747.2 374.3 1748.2C383.8 1749.7 393.3 1750.6 402.9 1751.3C415.9 1752.2 428.9 1753.3 441.9 1753.4C504.0 1753.8 566.2 1753.7 628.4 1753.9Z" fill="#7c80c8" fill-opacity="0.58"/>
<path d="M140.4 1753.9C171.6 1753.6 202.8 1753.7 234.0 1753.1C238.3 1753.0 242.6 1752.3 246.9 1751.3C250.4 1750.5 253.9 1748.7 257.3 1746.1C259.9 1744.2 262.5 1740.1 265.1 1735.7C267.7 1731.3 270.3 1724.3 272.9 1717.5C275.5 1710.7 278.1 1702.3 280.7 1694.1C283.3 1685.9 285.9 1675.0 288.5 1668.1C290.7 1662.4 292.9 1656.1 295.0 1653.8C296.5 1652.3 298.0 1650.7 299.4 1650.7C301.9 1650.7 304.3 1654.3 306.7 1657.7C308.4 1660.2 310.2 1666.4 311.9 1670.7C313.6 1675.1 315.4 1678.6 317.1 1683.7C319.3 1690.1 321.4 1700.8 323.6 1707.1C325.3 1712.2 327.1 1716.5 328.8 1720.1C330.3 1723.1 331.7 1725.9 333.2 1727.9C336.5 1732.4 339.8 1736.3 343.1 1738.3C347.4 1740.9 351.8 1742.1 356.1 1743.5C362.2 1745.4 368.2 1747.2 374.3 1748.2C383.8 1749.7 393.3 1750.6 402.9 1751.3C415.9 1752.2 428.9 1753.3 441.9 1753.4C504.0 1753.8 566.2 1753.7 628.4 1753.9" fill="none" stroke="#3a40a8" stroke-width="1.5" stroke-linejoin="round"/>
</g>
<line x1="333.2" y1="1315.6" x2="333.2" y2="1753.8" stroke="#d8423c" stroke-width="1.3" />
<path d="M142 1753.8V1315.6H333.2" fill="none" stroke="#2a2a2a" stroke-width="1.1"/>
<path d="M333.2 1315.6H628.4V1753.8" fill="none" stroke="#a06868" stroke-width="1.1"/>
<text transform="translate(621.4 1409.8) scale(1 1.035)" font-size="26.4" text-anchor="end">Isotype</text>
<text transform="translate(620.7 1471.0) scale(1 1.035)" font-size="26.7" text-anchor="end" fill="#6a6a6a">WT</text>
<text transform="translate(622.7 1524.9) scale(1 1.035)" font-size="26.65" text-anchor="end" fill="#333">WT + EPC2</text>
<text transform="translate(621.4 1579.2) scale(1 1.035)" font-size="26.6" text-anchor="end" fill="#f3ae68">JUN-KO</text>
<text transform="translate(623.6 1633.4) scale(1 1.035)" font-size="26.6" text-anchor="end" fill="#ee8008">JUN-KO + EPC2</text>
<text transform="translate(619.9 1689.0) scale(1 1.035)" font-size="26.85" text-anchor="end" fill="#5b9fd8">ATF3-KO</text>
<text transform="translate(619.4 1745.6) scale(1 1.035)" font-size="26.73" text-anchor="end" fill="#2d2f9a">ATF3-KO + EPC2</text>
<text transform="translate(339.6 1341.7) scale(1 1.035)" font-size="22.6" fill="#d9271d">C3aR1+</text>
<text transform="translate(421.2 1340) scale(1.3 1)" font-size="34" fill="#d9271d">→</text>
<line x1="163.6" y1="1753.8" x2="163.6" y2="1759.2" stroke="#000" stroke-width="1.4" />
<line x1="262.5" y1="1753.8" x2="262.5" y2="1759.2" stroke="#000" stroke-width="1.4" />
<line x1="360.5" y1="1753.8" x2="360.5" y2="1759.2" stroke="#000" stroke-width="1.4" />
<line x1="463.0" y1="1753.8" x2="463.0" y2="1759.2" stroke="#000" stroke-width="1.4" />
<line x1="545.9" y1="1753.8" x2="545.9" y2="1759.2" stroke="#000" stroke-width="1.4" />
<line x1="627.5" y1="1753.8" x2="627.5" y2="1759.2" stroke="#000" stroke-width="1.4" />
<line x1="488.0" y1="1753.8" x2="488.0" y2="1756.7" stroke="#000" stroke-width="1.0" />
<line x1="570.5" y1="1753.8" x2="570.5" y2="1756.7" stroke="#000" stroke-width="1.0" />
<line x1="391.4" y1="1753.8" x2="391.4" y2="1756.7" stroke="#000" stroke-width="1.0" />
<line x1="148.5" y1="1753.8" x2="148.5" y2="1756.7" stroke="#000" stroke-width="1.0" />
<line x1="502.6" y1="1753.8" x2="502.6" y2="1756.7" stroke="#000" stroke-width="1.0" />
<line x1="584.8" y1="1753.8" x2="584.8" y2="1756.7" stroke="#000" stroke-width="1.0" />
<line x1="409.4" y1="1753.8" x2="409.4" y2="1756.7" stroke="#000" stroke-width="1.0" />
<line x1="512.9" y1="1753.8" x2="512.9" y2="1756.7" stroke="#000" stroke-width="1.0" />
<line x1="595.0" y1="1753.8" x2="595.0" y2="1756.7" stroke="#000" stroke-width="1.0" />
<line x1="422.2" y1="1753.8" x2="422.2" y2="1756.7" stroke="#000" stroke-width="1.0" />
<line x1="520.9" y1="1753.8" x2="520.9" y2="1756.7" stroke="#000" stroke-width="1.0" />
<line x1="602.9" y1="1753.8" x2="602.9" y2="1756.7" stroke="#000" stroke-width="1.0" />
<line x1="432.1" y1="1753.8" x2="432.1" y2="1756.7" stroke="#000" stroke-width="1.0" />
<line x1="527.5" y1="1753.8" x2="527.5" y2="1756.7" stroke="#000" stroke-width="1.0" />
<line x1="609.4" y1="1753.8" x2="609.4" y2="1756.7" stroke="#000" stroke-width="1.0" />
<line x1="440.3" y1="1753.8" x2="440.3" y2="1756.7" stroke="#000" stroke-width="1.0" />
<line x1="533.1" y1="1753.8" x2="533.1" y2="1756.7" stroke="#000" stroke-width="1.0" />
<line x1="614.9" y1="1753.8" x2="614.9" y2="1756.7" stroke="#000" stroke-width="1.0" />
<line x1="447.1" y1="1753.8" x2="447.1" y2="1756.7" stroke="#000" stroke-width="1.0" />
<line x1="537.9" y1="1753.8" x2="537.9" y2="1756.7" stroke="#000" stroke-width="1.0" />
<line x1="619.6" y1="1753.8" x2="619.6" y2="1756.7" stroke="#000" stroke-width="1.0" />
<line x1="453.1" y1="1753.8" x2="453.1" y2="1756.7" stroke="#000" stroke-width="1.0" />
<line x1="542.1" y1="1753.8" x2="542.1" y2="1756.7" stroke="#000" stroke-width="1.0" />
<line x1="623.8" y1="1753.8" x2="623.8" y2="1756.7" stroke="#000" stroke-width="1.0" />
<line x1="458.3" y1="1753.8" x2="458.3" y2="1756.7" stroke="#000" stroke-width="1.0" />
<line x1="304.5" y1="1753.8" x2="304.5" y2="1756.7" stroke="#000" stroke-width="1.0" />
<line x1="220.5" y1="1753.8" x2="220.5" y2="1756.7" stroke="#000" stroke-width="1.0" />
<line x1="321.4" y1="1753.8" x2="321.4" y2="1756.7" stroke="#000" stroke-width="1.0" />
<line x1="203.6" y1="1753.8" x2="203.6" y2="1756.7" stroke="#000" stroke-width="1.0" />
<line x1="331.2" y1="1753.8" x2="331.2" y2="1756.7" stroke="#000" stroke-width="1.0" />
<line x1="193.8" y1="1753.8" x2="193.8" y2="1756.7" stroke="#000" stroke-width="1.0" />
<line x1="338.2" y1="1753.8" x2="338.2" y2="1756.7" stroke="#000" stroke-width="1.0" />
<line x1="186.8" y1="1753.8" x2="186.8" y2="1756.7" stroke="#000" stroke-width="1.0" />
<line x1="343.6" y1="1753.8" x2="343.6" y2="1756.7" stroke="#000" stroke-width="1.0" />
<line x1="181.4" y1="1753.8" x2="181.4" y2="1756.7" stroke="#000" stroke-width="1.0" />
<line x1="348.1" y1="1753.8" x2="348.1" y2="1756.7" stroke="#000" stroke-width="1.0" />
<line x1="176.9" y1="1753.8" x2="176.9" y2="1756.7" stroke="#000" stroke-width="1.0" />
<line x1="351.8" y1="1753.8" x2="351.8" y2="1756.7" stroke="#000" stroke-width="1.0" />
<line x1="173.2" y1="1753.8" x2="173.2" y2="1756.7" stroke="#000" stroke-width="1.0" />
<line x1="355.1" y1="1753.8" x2="355.1" y2="1756.7" stroke="#000" stroke-width="1.0" />
<line x1="169.9" y1="1753.8" x2="169.9" y2="1756.7" stroke="#000" stroke-width="1.0" />
<line x1="357.9" y1="1753.8" x2="357.9" y2="1756.7" stroke="#000" stroke-width="1.0" />
<line x1="167.1" y1="1753.8" x2="167.1" y2="1756.7" stroke="#000" stroke-width="1.0" />
<line x1="250.6" y1="1753.8" x2="250.6" y2="1757.4" stroke="#000" stroke-width="1.7" />
<line x1="253.2" y1="1753.8" x2="253.2" y2="1757.4" stroke="#000" stroke-width="1.7" />
<line x1="255.8" y1="1753.8" x2="255.8" y2="1757.4" stroke="#000" stroke-width="1.7" />
<line x1="258.4" y1="1753.8" x2="258.4" y2="1757.4" stroke="#000" stroke-width="1.7" />
<line x1="261.0" y1="1753.8" x2="261.0" y2="1757.4" stroke="#000" stroke-width="1.7" />
<line x1="264.4" y1="1753.8" x2="264.4" y2="1757.4" stroke="#000" stroke-width="1.7" />
<line x1="267.0" y1="1753.8" x2="267.0" y2="1757.4" stroke="#000" stroke-width="1.7" />
<line x1="269.6" y1="1753.8" x2="269.6" y2="1757.4" stroke="#000" stroke-width="1.7" />
<line x1="272.2" y1="1753.8" x2="272.2" y2="1757.4" stroke="#000" stroke-width="1.7" />
<line x1="274.8" y1="1753.8" x2="274.8" y2="1757.4" stroke="#000" stroke-width="1.7" />
<text x="144.4" y="1783.8" font-size="23.4">-10<tspan dy="-9.5" dx="1.5" font-size="16.5">4</tspan></text>
<text transform="translate(262.5 1783.8) scale(1 1.035)" font-size="23.4" text-anchor="middle">0</text>
<text x="347.6" y="1783.8" font-size="23.4">10<tspan dy="-9.5" dx="1.5" font-size="16.5">4</tspan></text>
<text x="449.2" y="1783.8" font-size="23.4">10<tspan dy="-9.5" dx="1.5" font-size="16.5">5</tspan></text>
<text x="532.6" y="1783.8" font-size="23.4">10<tspan dy="-9.5" dx="1.5" font-size="16.5">6</tspan></text>
<text x="605.3" y="1783.8" font-size="23.4">10<tspan dy="-9.5" dx="1.5" font-size="16.5">7</tspan></text>
<text transform="translate(141.8 1822.0) scale(1 1.035)" font-size="26" textLength="81.0" lengthAdjust="spacingAndGlyphs">C3aR1</text>
<text transform="translate(226.9 1821.1) scale(1.18 1)" font-size="38">→</text>
</g>
<g id="panelF2">
<text transform="translate(1019.7 1301.7) scale(1 1.035)" font-size="25.2" text-anchor="middle" font-weight="bold">C3aR1</text>
<rect x="787.7" y="1760.6" width="45.0" height="6.5" fill="#fff" stroke="#000" stroke-width="2.0"/>
<rect x="861.7" y="1753.1" width="45.0" height="14.0" fill="#fff" stroke="#000" stroke-width="2.0"/>
<rect x="935.7" y="1758.1" width="45.0" height="9.0" fill="#fff" stroke="#000" stroke-width="2.0"/>
<rect x="1059.5" y="1615.3" width="45.0" height="151.8" fill="#fff" stroke="#000" stroke-width="2.0"/>
<rect x="1133.5" y="1642.5" width="45.0" height="124.6" fill="#fff" stroke="#000" stroke-width="2.0"/>
<rect x="1207.5" y="1697.2" width="45.0" height="69.9" fill="#fff" stroke="#000" stroke-width="2.0"/>
<line x1="1081.9" y1="1570.3" x2="1081.9" y2="1658.6" stroke="#000" stroke-width="2.1" />
<line x1="1068.7" y1="1570.3" x2="1095.1" y2="1570.3" stroke="#000" stroke-width="2.1" />
<line x1="1068.7" y1="1658.6" x2="1095.1" y2="1658.6" stroke="#000" stroke-width="2.1" />
<line x1="1155.7" y1="1585.2" x2="1155.7" y2="1694.2" stroke="#000" stroke-width="2.1" />
<line x1="1142.5" y1="1585.2" x2="1168.9" y2="1585.2" stroke="#000" stroke-width="2.1" />
<line x1="1142.5" y1="1694.2" x2="1168.9" y2="1694.2" stroke="#000" stroke-width="2.1" />
<line x1="1230.4" y1="1655.5" x2="1230.4" y2="1734.5" stroke="#000" stroke-width="2.1" />
<line x1="1217.2" y1="1655.5" x2="1243.6" y2="1655.5" stroke="#000" stroke-width="2.1" />
<line x1="1217.2" y1="1734.5" x2="1243.6" y2="1734.5" stroke="#000" stroke-width="2.1" />
<rect x="785.2" y="1745.8" width="15.8" height="15.8" rx="1.6" fill="#ffffff" stroke="#000" stroke-width="2.4"/>
<rect x="818.4" y="1745.8" width="15.8" height="15.8" rx="1.6" fill="#ffffff" stroke="#000" stroke-width="2.4"/>
<rect x="807.8" y="1747.4" width="15.8" height="15.8" rx="1.6" fill="#ffffff" stroke="#000" stroke-width="2.4"/>
<rect x="813.1" y="1738.1" width="15.8" height="15.8" rx="1.6" fill="#ffffff" stroke="#000" stroke-width="2.4"/>
<rect x="790.8" y="1732.8" width="15.8" height="15.8" rx="1.6" fill="#ffffff" stroke="#000" stroke-width="2.4"/>
<rect x="801.6" y="1735.3" width="15.8" height="15.8" rx="1.6" fill="#ffffff" stroke="#000" stroke-width="2.4"/>
<rect x="797.0" y="1739.0" width="15.8" height="15.8" rx="1.6" fill="#ffffff" stroke="#000" stroke-width="2.4"/>
<rect x="859.6" y="1736.5" width="15.8" height="15.8" rx="1.6" fill="#fdd97f" stroke="#000" stroke-width="2.4"/>
<rect x="892.7" y="1736.9" width="15.8" height="15.8" rx="1.6" fill="#fdd97f" stroke="#000" stroke-width="2.4"/>
<rect x="876.0" y="1741.2" width="15.8" height="15.8" rx="1.6" fill="#fdd97f" stroke="#000" stroke-width="2.4"/>
<rect x="889.0" y="1732.8" width="15.8" height="15.8" rx="1.6" fill="#fdd97f" stroke="#000" stroke-width="2.4"/>
<rect x="863.3" y="1725.1" width="15.8" height="15.8" rx="1.6" fill="#fdd97f" stroke="#000" stroke-width="2.4"/>
<rect x="879.7" y="1726.6" width="15.8" height="15.8" rx="1.6" fill="#fdd97f" stroke="#000" stroke-width="2.4"/>
<rect x="867.9" y="1727.2" width="15.8" height="15.8" rx="1.6" fill="#fdd97f" stroke="#000" stroke-width="2.4"/>
<rect x="933.3" y="1749.2" width="15.8" height="15.8" rx="1.6" fill="#a2d8ef" stroke="#000" stroke-width="2.4"/>
<rect x="966.5" y="1750.5" width="15.8" height="15.8" rx="1.6" fill="#a2d8ef" stroke="#000" stroke-width="2.4"/>
<rect x="950.1" y="1722.0" width="15.8" height="15.8" rx="1.6" fill="#a2d8ef" stroke="#000" stroke-width="2.4"/>
<rect x="933.3" y="1727.2" width="15.8" height="15.8" rx="1.6" fill="#a2d8ef" stroke="#000" stroke-width="2.4"/>
<rect x="966.5" y="1731.3" width="15.8" height="15.8" rx="1.6" fill="#a2d8ef" stroke="#000" stroke-width="2.4"/>
<rect x="941.7" y="1735.9" width="15.8" height="15.8" rx="1.6" fill="#a2d8ef" stroke="#000" stroke-width="2.4"/>
<rect x="958.7" y="1741.2" width="15.8" height="15.8" rx="1.6" fill="#a2d8ef" stroke="#000" stroke-width="2.4"/>
<rect x="950.1" y="1742.1" width="15.8" height="15.8" rx="1.6" fill="#a2d8ef" stroke="#000" stroke-width="2.4"/>
<rect x="1057.9" y="1559.3" width="15.8" height="15.8" rx="1.6" fill="#dedede" stroke="#000" stroke-width="2.4"/>
<rect x="1074.0" y="1559.3" width="15.8" height="15.8" rx="1.6" fill="#dedede" stroke="#000" stroke-width="2.4"/>
<rect x="1090.4" y="1555.3" width="15.8" height="15.8" rx="1.6" fill="#dedede" stroke="#000" stroke-width="2.4"/>
<rect x="1074.0" y="1615.7" width="15.8" height="15.8" rx="1.6" fill="#dedede" stroke="#000" stroke-width="2.4"/>
<rect x="1074.0" y="1637.4" width="15.8" height="15.8" rx="1.6" fill="#dedede" stroke="#000" stroke-width="2.4"/>
<rect x="1090.4" y="1653.2" width="15.8" height="15.8" rx="1.6" fill="#dedede" stroke="#000" stroke-width="2.4"/>
<rect x="1057.9" y="1658.4" width="15.8" height="15.8" rx="1.6" fill="#dedede" stroke="#000" stroke-width="2.4"/>
<rect x="1131.7" y="1541.6" width="15.8" height="15.8" rx="1.6" fill="#f6920c" stroke="#000" stroke-width="2.4"/>
<rect x="1147.8" y="1557.7" width="15.8" height="15.8" rx="1.6" fill="#f6920c" stroke="#000" stroke-width="2.4"/>
<rect x="1147.8" y="1587.8" width="15.8" height="15.8" rx="1.6" fill="#f6920c" stroke="#000" stroke-width="2.4"/>
<rect x="1131.7" y="1647.6" width="15.8" height="15.8" rx="1.6" fill="#f6920c" stroke="#000" stroke-width="2.4"/>
<rect x="1164.8" y="1650.1" width="15.8" height="15.8" rx="1.6" fill="#f6920c" stroke="#000" stroke-width="2.4"/>
<rect x="1131.7" y="1666.2" width="15.8" height="15.8" rx="1.6" fill="#f6920c" stroke="#000" stroke-width="2.4"/>
<rect x="1147.8" y="1673.0" width="15.8" height="15.8" rx="1.6" fill="#f6920c" stroke="#000" stroke-width="2.4"/>
<rect x="1164.8" y="1682.3" width="15.8" height="15.8" rx="1.6" fill="#f6920c" stroke="#000" stroke-width="2.4"/>
<rect x="1131.7" y="1686.3" width="15.8" height="15.8" rx="1.6" fill="#f6920c" stroke="#000" stroke-width="2.4"/>
<rect x="1226.2" y="1621.9" width="15.8" height="15.8" rx="1.6" fill="#4a50b0" stroke="#000" stroke-width="2.4"/>
<rect x="1219.1" y="1625.0" width="15.8" height="15.8" rx="1.6" fill="#4a50b0" stroke="#000" stroke-width="2.4"/>
<rect x="1212.9" y="1701.8" width="15.8" height="15.8" rx="1.6" fill="#4a50b0" stroke="#000" stroke-width="2.4"/>
<rect x="1239.2" y="1707.1" width="15.8" height="15.8" rx="1.6" fill="#4a50b0" stroke="#000" stroke-width="2.4"/>
<rect x="1205.7" y="1711.8" width="15.8" height="15.8" rx="1.6" fill="#4a50b0" stroke="#000" stroke-width="2.4"/>
<rect x="1232.4" y="1714.2" width="15.8" height="15.8" rx="1.6" fill="#4a50b0" stroke="#000" stroke-width="2.4"/>
<rect x="1225.3" y="1706.5" width="15.8" height="15.8" rx="1.6" fill="#4a50b0" stroke="#000" stroke-width="2.4"/>
<line x1="760.9" y1="1366.7" x2="760.9" y2="1768.0" stroke="#000" stroke-width="2.0" />
<line x1="747.6" y1="1767.1" x2="1279.6" y2="1767.1" stroke="#000" stroke-width="2.0" />
<text transform="translate(743.2 1774.4) scale(1 1.035)" font-size="20.6" text-anchor="end" font-weight="bold">0</text>
<line x1="747.6" y1="1667.2" x2="760.9" y2="1667.2" stroke="#000" stroke-width="2.0" />
<text transform="translate(743.2 1674.5) scale(1 1.035)" font-size="20.6" text-anchor="end">20</text>
<line x1="747.6" y1="1567.3" x2="760.9" y2="1567.3" stroke="#000" stroke-width="2.0" />
<text transform="translate(743.2 1574.6) scale(1 1.035)" font-size="20.6" text-anchor="end">40</text>
<line x1="747.6" y1="1467.5" x2="760.9" y2="1467.5" stroke="#000" stroke-width="2.0" />
<text transform="translate(743.2 1474.8) scale(1 1.035)" font-size="20.6" text-anchor="end">60</text>
<line x1="747.6" y1="1367.6" x2="760.9" y2="1367.6" stroke="#000" stroke-width="2.0" />
<text transform="translate(743.2 1374.9) scale(1 1.035)" font-size="20.6" text-anchor="end">80</text>
<line x1="883.6" y1="1767.1" x2="883.6" y2="1779.5" stroke="#000" stroke-width="2.0" />
<text transform="translate(881.6 1802.8) scale(1 1.035)" font-size="20.7" text-anchor="middle">EOL-1 only</text>
<line x1="1155.7" y1="1767.1" x2="1155.7" y2="1779.5" stroke="#000" stroke-width="2.0" />
<text transform="translate(1155.3 1802.8) scale(1 1.035)" font-size="20.7" text-anchor="middle">EOL-1 + EPC2</text>
<text transform="translate(708.1 1570.2) rotate(-90) scale(1 1.035)" font-size="22.2" text-anchor="middle">% of CD45+</text>
<path d="M1081.6 1350.6V1333.8H1230.4V1362.3" fill="none" stroke="#000" stroke-width="3.1" stroke-linecap="round" stroke-linejoin="miter"/>
<text transform="translate(1155.8 1318.9) scale(1 1.035)" font-size="22" text-anchor="middle">0.0005</text>
<path d="M957.7 1420.3V1396.7H1230.4V1420.3" fill="none" stroke="#000" stroke-width="3.1" stroke-linecap="round" stroke-linejoin="miter"/>
<text transform="translate(1094.0 1381.5) scale(1 1.035)" font-size="22" text-anchor="middle">0.0543</text>
<path d="M883.6 1476.7V1463.0H1150.7V1475.0" fill="none" stroke="#000" stroke-width="3.1" stroke-linecap="round" stroke-linejoin="miter"/>
<text transform="translate(1017.0 1448.1) scale(1 1.035)" font-size="22" text-anchor="middle">&lt;0.0001</text>
<path d="M1161.0 1475.0V1463.0H1230.4V1476.7" fill="none" stroke="#000" stroke-width="3.1" stroke-linecap="round" stroke-linejoin="miter"/>
<text transform="translate(1195.8 1448.1) scale(1 1.035)" font-size="22" text-anchor="middle">0.0244</text>
<path d="M809.5 1533.4V1519.5H1076.3V1533.4" fill="none" stroke="#000" stroke-width="3.1" stroke-linecap="round" stroke-linejoin="miter"/>
<text transform="translate(942.6 1504.8) scale(1 1.035)" font-size="22" text-anchor="middle">&lt;0.0001</text>
<path d="M1086.9 1533.4V1519.5H1156.3V1533.4" fill="none" stroke="#000" stroke-width="3.1" stroke-linecap="round" stroke-linejoin="miter"/>
<text transform="translate(1121.6 1504.8) scale(1 1.035)" font-size="22" text-anchor="middle">0.6317</text>
<rect x="1307.7" y="1352.7" width="31.0" height="16.6" fill="#ffffff" stroke="#000" stroke-width="2.5"/>
<text transform="translate(1355.7 1369.6) scale(1 1.035)" font-size="23.2">WT</text>
<rect x="1307.7" y="1392.6" width="31.0" height="16.6" fill="#a5a19f" stroke="#000" stroke-width="2.5"/>
<text transform="translate(1355.7 1409.5) scale(1 1.035)" font-size="23.2">WT+EPC2</text>
<rect x="1307.7" y="1454.1" width="31.0" height="16.6" fill="#a2d8ef" stroke="#000" stroke-width="2.5"/>
<text transform="translate(1355.7 1471.0) scale(1 1.035)" font-size="23.2">ATF3-KO</text>
<rect x="1307.7" y="1494.1" width="31.0" height="16.6" fill="#4a50b0" stroke="#000" stroke-width="2.5"/>
<text transform="translate(1355.7 1511.0) scale(1 1.035)" font-size="23.2">ATF3-KO+EPC2</text>
<rect x="1307.7" y="1598.3" width="31.0" height="16.6" fill="#fdd97f" stroke="#000" stroke-width="2.5"/>
<text transform="translate(1355.7 1615.2) scale(1 1.035)" font-size="23.2">JUN-KO</text>
<rect x="1307.7" y="1638.3" width="31.0" height="16.6" fill="#f6920c" stroke="#000" stroke-width="2.5"/>
<text transform="translate(1355.7 1655.2) scale(1 1.035)" font-size="23.2">JUN-KO+EPC2</text>
</g>
</svg>
</body>
</html>
